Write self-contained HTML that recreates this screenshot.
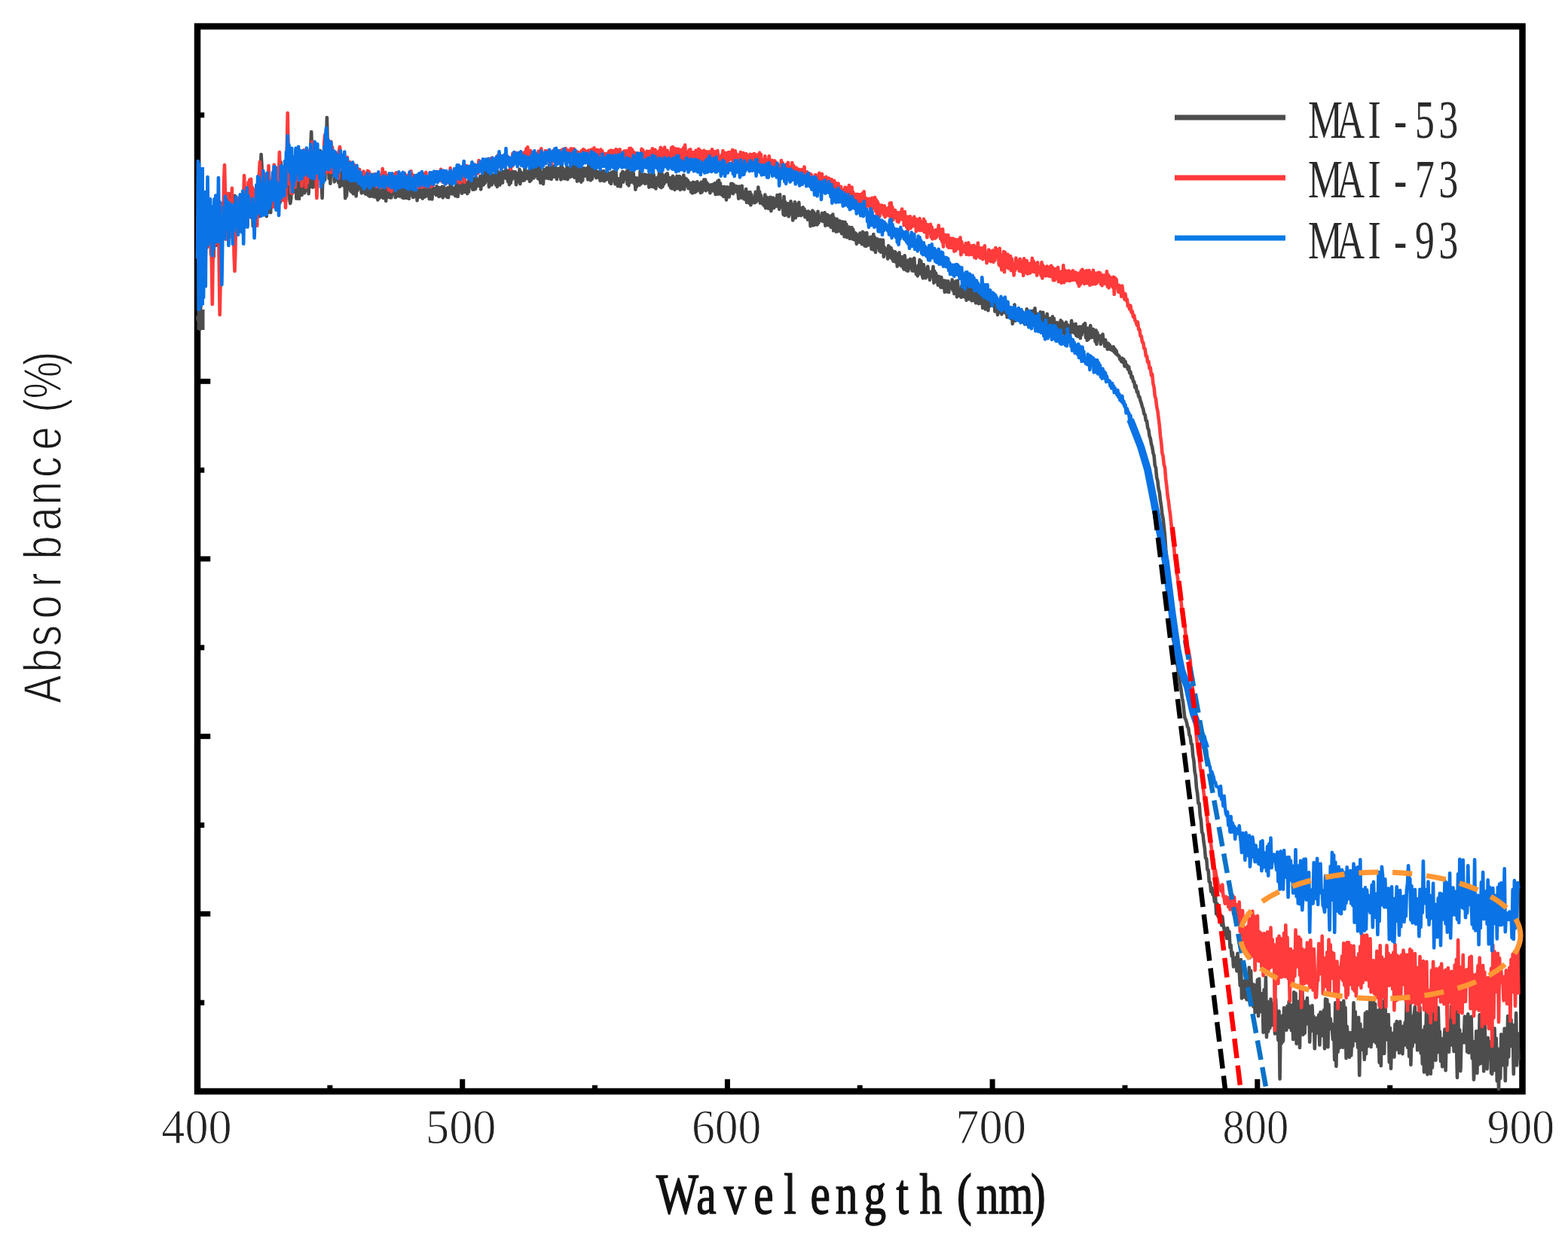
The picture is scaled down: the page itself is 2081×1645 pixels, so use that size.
<!DOCTYPE html>
<html><head><meta charset="utf-8"><title>Absorbance vs Wavelength</title>
<style>html,body{margin:0;padding:0;background:#fff;}svg{display:block;}</style></head>
<body><svg width="2081" height="1645" viewBox="0 0 2081 1645">
<rect width="2081" height="1645" fill="#fff"/>
<rect x="262.0" y="35.0" width="1758.5" height="1414.0" fill="none" stroke="#000" stroke-width="8.5"/>
<line x1="437.9" y1="1449.0" x2="437.9" y2="1440.75" stroke="#000" stroke-width="7"/>
<line x1="613.7" y1="1449.0" x2="613.7" y2="1432.75" stroke="#000" stroke-width="7"/>
<line x1="789.5" y1="1449.0" x2="789.5" y2="1440.75" stroke="#000" stroke-width="7"/>
<line x1="965.4" y1="1449.0" x2="965.4" y2="1432.75" stroke="#000" stroke-width="7"/>
<line x1="1141.2" y1="1449.0" x2="1141.2" y2="1440.75" stroke="#000" stroke-width="7"/>
<line x1="1317.1" y1="1449.0" x2="1317.1" y2="1432.75" stroke="#000" stroke-width="7"/>
<line x1="1493.0" y1="1449.0" x2="1493.0" y2="1440.75" stroke="#000" stroke-width="7"/>
<line x1="1668.8" y1="1449.0" x2="1668.8" y2="1432.75" stroke="#000" stroke-width="7"/>
<line x1="1844.7" y1="1449.0" x2="1844.7" y2="1440.75" stroke="#000" stroke-width="7"/>
<line x1="262.0" y1="1331.2" x2="271.25" y2="1331.2" stroke="#000" stroke-width="7"/>
<line x1="262.0" y1="1213.3" x2="279.25" y2="1213.3" stroke="#000" stroke-width="7"/>
<line x1="262.0" y1="1095.5" x2="271.25" y2="1095.5" stroke="#000" stroke-width="7"/>
<line x1="262.0" y1="977.7" x2="279.25" y2="977.7" stroke="#000" stroke-width="7"/>
<line x1="262.0" y1="859.8" x2="271.25" y2="859.8" stroke="#000" stroke-width="7"/>
<line x1="262.0" y1="742.0" x2="279.25" y2="742.0" stroke="#000" stroke-width="7"/>
<line x1="262.0" y1="624.2" x2="271.25" y2="624.2" stroke="#000" stroke-width="7"/>
<line x1="262.0" y1="506.3" x2="279.25" y2="506.3" stroke="#000" stroke-width="7"/>
<line x1="262.0" y1="388.5" x2="271.25" y2="388.5" stroke="#000" stroke-width="7"/>
<line x1="262.0" y1="270.7" x2="279.25" y2="270.7" stroke="#000" stroke-width="7"/>
<line x1="262.0" y1="152.8" x2="271.25" y2="152.8" stroke="#000" stroke-width="7"/>
<path d="M262.0 419.3 262.9 425.0 263.8 423.6 264.7 406.5 265.6 437.0 266.5 393.6 267.4 375.4 268.3 340.0 269.2 360.4 270.1 313.2 271.0 347.0 271.9 308.8 272.8 339.6 273.7 310.5 274.6 328.5 275.5 288.4 276.4 320.4 277.3 274.4 278.2 324.5 279.1 289.2 280.0 337.8 280.9 306.5 281.8 330.0 282.7 287.7 283.6 341.3 284.5 298.7 285.4 321.3 286.3 286.9 287.2 325.8 288.1 311.4 289.0 321.9 289.9 300.2 290.8 318.0 291.7 282.9 292.6 325.0 293.5 291.3 294.4 320.2 295.3 290.1 296.2 314.4 297.1 289.5 298.0 304.9 298.9 292.5 299.8 308.2 300.7 268.8 301.6 315.3 302.5 286.1 303.4 296.9 304.3 285.6 305.2 303.5 306.1 257.0 307.0 303.6 307.9 278.2 308.8 292.6 309.7 285.0 310.6 309.1 311.5 259.8 312.4 298.8 313.3 285.6 314.2 297.9 315.1 285.6 316.0 300.5 316.9 267.3 317.8 307.3 318.7 279.6 319.6 295.4 320.5 276.8 321.4 295.3 322.3 269.7 323.2 292.3 324.1 269.7 325.0 301.4 325.9 266.0 326.8 289.3 327.7 275.3 328.6 285.9 329.5 261.0 330.4 287.1 331.3 263.2 332.2 287.8 333.1 263.7 334.0 289.0 334.9 258.2 335.8 300.2 336.7 265.6 337.6 282.8 338.5 257.9 339.4 291.6 340.3 265.7 341.2 278.6 342.1 266.0 343.0 282.6 343.9 244.1 344.8 287.1 345.7 228.8 346.6 205.0 347.5 220.7 348.4 280.1 349.3 237.6 350.2 281.6 351.1 237.1 352.0 280.4 352.9 248.4 353.8 287.1 354.7 239.2 355.6 282.1 356.5 262.7 357.4 275.3 358.3 256.3 359.2 282.1 360.1 248.1 361.0 269.4 361.9 242.1 362.8 263.3 363.7 241.5 364.6 265.3 365.5 238.6 366.4 272.9 367.3 263.6 368.2 273.7 369.1 249.4 370.0 267.3 370.9 242.8 371.8 268.8 372.7 215.2 373.6 259.9 374.5 238.6 375.4 253.7 376.3 231.9 377.2 248.8 378.1 234.3 379.0 267.9 379.9 248.1 380.8 257.4 381.7 221.2 382.6 250.7 383.5 223.2 384.4 265.0 385.3 270.0 386.2 263.3 387.1 224.2 388.0 248.2 388.9 226.7 389.8 249.3 390.7 226.0 391.6 254.9 392.5 225.6 393.4 263.8 394.3 223.3 395.2 251.7 396.1 232.5 397.0 263.9 397.9 227.8 398.8 256.4 399.7 228.3 400.6 258.9 401.5 222.9 402.4 251.7 403.3 224.1 404.2 256.2 405.1 227.5 406.0 251.8 406.9 217.7 407.8 253.0 408.7 217.0 409.6 257.2 410.5 235.3 411.4 248.1 412.3 196.0 413.2 175.0 414.1 202.1 415.0 248.8 415.9 230.1 416.8 240.4 417.7 214.1 418.6 247.8 419.5 216.1 420.4 239.5 421.3 219.3 422.2 234.4 423.1 201.3 424.0 236.8 424.9 200.0 425.8 231.7 426.7 240.1 427.6 263.0 428.5 229.6 429.4 232.2 430.3 209.4 431.2 238.7 432.1 206.8 433.0 194.3 433.9 156.0 434.8 193.8 435.7 208.3 436.6 236.9 437.5 198.9 438.4 243.8 439.3 207.5 440.2 232.0 441.1 210.1 442.0 231.6 442.9 222.2 443.8 241.4 444.7 223.1 445.6 238.8 446.5 213.9 447.4 239.2 448.3 216.5 449.2 242.5 450.1 228.8 451.0 248.0 451.9 228.5 452.8 242.8 453.7 234.2 454.6 246.2 455.5 233.4 456.4 243.7 457.3 235.1 458.2 263.2 459.1 239.8 460.0 260.4 460.9 238.7 461.8 251.1 462.7 241.4 463.6 250.7 464.5 238.9 465.4 253.8 466.3 241.4 467.2 255.4 468.1 236.8 469.0 257.3 469.9 241.1 470.8 254.5 471.7 239.3 472.6 260.5 473.5 246.5 474.4 253.0 475.3 247.7 476.2 249.8 477.1 243.8 478.0 247.3 478.9 245.8 479.8 256.4 480.7 243.9 481.6 253.0 482.5 244.4 483.4 255.8 484.3 244.2 485.2 257.8 486.1 239.6 487.0 257.1 487.9 242.6 488.8 259.4 489.7 248.2 490.6 260.8 491.5 246.5 492.4 260.5 493.3 245.8 494.2 255.1 495.1 247.8 496.0 261.3 496.9 245.4 497.8 258.6 498.7 251.4 499.6 262.3 500.5 243.3 501.4 265.5 502.3 247.0 503.2 263.3 504.1 253.9 505.0 261.7 505.9 258.1 506.8 260.5 507.7 250.1 508.6 263.0 509.5 253.1 510.4 261.1 511.3 244.1 512.2 266.8 513.1 248.8 514.0 260.2 514.9 250.8 515.8 261.7 516.7 252.2 517.6 262.4 518.5 249.4 519.4 262.4 520.3 250.1 521.2 257.7 522.1 247.9 523.0 257.4 523.9 251.1 524.8 262.3 525.7 246.7 526.6 260.6 527.5 245.8 528.4 259.6 529.3 245.6 530.2 260.7 531.1 248.0 532.0 257.6 532.9 242.4 533.8 262.1 534.7 258.6 535.6 263.0 536.5 246.7 537.4 260.5 538.3 253.5 539.2 263.0 540.1 253.1 541.0 258.8 541.9 246.6 542.8 263.8 543.7 242.0 544.6 259.1 545.5 245.0 546.4 247.1 547.3 250.8 548.2 262.0 549.1 250.5 550.0 256.5 550.9 252.1 551.8 261.4 552.7 250.9 553.6 266.2 554.5 249.6 555.4 261.9 556.3 254.1 557.2 260.3 558.1 251.2 559.0 261.7 559.9 252.5 560.8 263.6 561.7 254.1 562.6 261.8 563.5 249.0 564.4 261.1 565.3 245.4 566.2 259.6 567.1 253.7 568.0 260.1 568.9 251.1 569.8 264.2 570.7 246.1 571.6 263.6 572.5 243.4 573.4 264.5 574.3 249.3 575.2 257.3 576.1 250.3 577.0 254.7 577.9 251.7 578.8 258.9 579.7 247.2 580.6 256.7 581.5 250.6 582.4 261.0 583.3 249.0 584.2 258.7 585.1 249.7 586.0 260.5 586.9 247.7 587.8 262.4 588.7 247.9 589.6 259.6 590.5 257.4 591.4 259.6 592.3 250.4 593.2 261.7 594.1 249.3 595.0 262.3 595.9 249.8 596.8 256.5 597.7 245.9 598.6 257.1 599.5 248.0 600.4 257.5 601.3 250.0 602.2 256.4 603.1 250.1 604.0 259.9 604.9 247.4 605.8 260.5 606.7 241.3 607.6 261.0 608.5 253.0 609.4 251.2 610.3 246.5 611.2 253.5 612.1 244.3 613.0 256.8 613.9 249.2 614.8 255.2 615.7 240.2 616.6 255.0 617.5 243.6 618.4 253.4 619.3 245.1 620.2 257.1 621.1 241.3 622.0 254.8 622.9 239.9 623.8 247.8 624.7 247.8 625.6 247.4 626.5 243.0 627.4 251.7 628.3 236.8 629.2 251.7 630.1 238.8 631.0 250.9 631.9 235.3 632.8 247.5 633.7 238.1 634.6 246.3 635.5 240.5 636.4 246.8 637.3 234.0 638.2 251.4 639.1 239.4 640.0 246.0 640.9 232.0 641.8 245.3 642.7 227.9 643.6 243.1 644.5 230.0 645.4 234.7 646.3 227.1 647.2 240.2 648.1 232.0 649.0 248.1 649.9 235.3 650.8 245.2 651.7 230.3 652.6 245.5 653.5 232.2 654.4 242.3 655.3 233.5 656.2 240.7 657.1 231.0 658.0 245.3 658.9 228.3 659.8 248.0 660.7 227.9 661.6 245.1 662.5 231.4 663.4 245.6 664.3 229.3 665.2 242.5 666.1 231.1 667.0 242.6 667.9 227.8 668.8 233.9 669.7 229.3 670.6 236.3 671.5 225.3 672.4 237.4 673.3 227.0 674.2 241.3 675.1 230.8 676.0 245.1 676.9 223.9 677.8 242.9 678.7 226.6 679.6 238.3 680.5 229.9 681.4 236.0 682.3 228.0 683.2 234.9 684.1 228.3 685.0 245.2 685.9 234.3 686.8 240.8 687.7 230.2 688.6 241.5 689.5 224.9 690.4 244.2 691.3 228.3 692.2 238.8 693.1 229.9 694.0 239.6 694.9 229.9 695.8 239.4 696.7 219.8 697.6 237.2 698.5 229.9 699.4 236.9 700.3 227.6 701.2 236.5 702.1 229.1 703.0 240.9 703.9 214.7 704.8 239.5 705.7 219.9 706.6 232.0 707.5 223.0 708.4 236.5 709.3 220.5 710.2 233.9 711.1 221.2 712.0 231.6 712.9 220.6 713.8 236.9 714.7 226.4 715.6 238.0 716.5 221.0 717.4 242.8 718.3 229.0 719.2 238.8 720.1 228.9 721.0 244.2 721.9 225.0 722.8 235.3 723.7 228.7 724.6 236.5 725.5 222.9 726.4 231.9 727.3 225.3 728.2 237.1 729.1 218.9 730.0 232.9 730.9 218.0 731.8 238.0 732.7 220.9 733.6 230.1 734.5 220.5 735.4 234.9 736.3 221.0 737.2 230.1 738.1 223.1 739.0 238.0 739.9 225.1 740.8 234.1 741.7 223.9 742.6 231.8 743.5 222.8 744.4 238.4 745.3 219.7 746.2 237.1 747.1 223.2 748.0 234.2 748.9 226.3 749.8 237.4 750.7 225.5 751.6 233.2 752.5 221.5 753.4 238.1 754.3 223.3 755.2 234.0 756.1 224.8 757.0 235.0 757.9 223.7 758.8 231.8 759.7 219.0 760.6 234.0 761.5 224.0 762.4 235.8 763.3 220.1 764.2 234.5 765.1 230.6 766.0 240.7 766.9 222.4 767.8 235.0 768.7 221.9 769.6 239.6 770.5 221.0 771.4 241.7 772.3 227.0 773.2 239.5 774.1 223.2 775.0 234.0 775.9 223.5 776.8 231.8 777.7 225.3 778.6 233.9 779.5 223.0 780.4 238.5 781.3 218.2 782.2 237.8 783.1 221.0 784.0 239.5 784.9 221.7 785.8 237.8 786.7 225.4 787.6 233.6 788.5 224.2 789.4 232.5 790.3 222.2 791.2 236.1 792.1 229.6 793.0 235.5 793.9 228.4 794.8 235.0 795.7 232.7 796.6 240.0 797.5 227.2 798.4 239.1 799.3 234.8 800.2 239.5 801.1 227.1 802.0 240.4 802.9 229.7 803.8 239.0 804.7 231.3 805.6 237.0 806.5 233.3 807.4 238.1 808.3 229.8 809.2 242.4 810.1 230.4 811.0 244.0 811.9 228.9 812.8 240.2 813.7 228.0 814.6 240.3 815.5 229.7 816.4 244.4 817.3 224.0 818.2 244.4 819.1 236.5 820.0 247.2 820.9 239.0 821.8 242.8 822.7 237.0 823.6 247.6 824.5 230.8 825.4 238.4 826.3 227.7 827.2 241.8 828.1 229.3 829.0 236.9 829.9 231.8 830.8 238.2 831.7 227.4 832.6 244.3 833.5 225.5 834.4 246.4 835.3 229.2 836.2 242.2 837.1 232.1 838.0 241.6 838.9 228.9 839.8 237.9 840.7 229.9 841.6 243.8 842.5 235.9 843.4 251.7 844.3 236.4 845.2 247.4 846.1 239.1 847.0 243.3 847.9 236.3 848.8 245.8 849.7 226.3 850.6 244.2 851.5 233.1 852.4 242.5 853.3 232.3 854.2 238.9 855.1 231.6 856.0 243.9 856.9 232.0 857.8 242.1 858.7 236.3 859.6 243.4 860.5 232.2 861.4 248.7 862.3 232.4 863.2 245.8 864.1 234.3 865.0 247.8 865.9 230.6 866.8 248.0 867.7 232.1 868.6 248.5 869.5 236.4 870.4 250.5 871.3 237.0 872.2 246.1 873.1 235.2 874.0 244.9 874.9 230.0 875.8 247.9 876.7 235.8 877.6 249.2 878.5 230.1 879.4 247.9 880.3 233.3 881.2 244.3 882.1 235.2 883.0 241.6 883.9 231.6 884.8 241.3 885.7 230.4 886.6 238.3 887.5 238.1 888.4 246.4 889.3 236.1 890.2 249.5 891.1 240.1 892.0 250.4 892.9 233.9 893.8 248.3 894.7 236.2 895.6 251.9 896.5 236.5 897.4 248.6 898.3 233.8 899.2 250.1 900.1 235.8 901.0 247.5 901.9 234.1 902.8 252.0 903.7 237.1 904.6 243.5 905.5 235.5 906.4 250.7 907.3 232.5 908.2 251.4 909.1 236.6 910.0 246.8 910.9 237.5 911.8 246.6 912.7 239.2 913.6 250.3 914.5 242.2 915.4 249.4 916.3 243.3 917.2 255.2 918.1 243.1 919.0 256.5 919.9 241.9 920.8 251.2 921.7 242.3 922.6 255.4 923.5 250.1 924.4 253.9 925.3 241.3 926.2 252.7 927.1 243.8 928.0 250.1 928.9 246.7 929.8 256.0 930.7 241.7 931.6 255.2 932.5 242.8 933.4 252.5 934.3 238.6 935.2 251.4 936.1 238.6 937.0 253.1 937.9 242.4 938.8 246.6 939.7 244.4 940.6 251.9 941.5 247.7 942.4 256.2 943.3 245.6 944.2 252.4 945.1 245.2 946.0 253.5 946.9 244.5 947.8 252.2 948.7 243.4 949.6 258.1 950.5 244.6 951.4 254.4 952.3 240.6 953.2 257.8 954.1 239.4 955.0 256.1 955.9 243.4 956.8 257.9 957.7 249.5 958.6 259.2 959.5 248.1 960.4 261.0 961.3 248.1 962.2 260.8 963.1 250.2 964.0 265.4 964.9 248.3 965.8 261.3 966.7 248.7 967.6 261.5 968.5 253.8 969.4 256.2 970.3 243.9 971.2 256.4 972.1 244.0 973.0 257.2 973.9 245.2 974.8 254.4 975.7 247.5 976.6 253.0 977.5 247.3 978.4 255.2 979.3 252.7 980.2 263.7 981.1 247.5 982.0 259.9 982.9 247.7 983.8 262.7 984.7 246.9 985.6 261.6 986.5 255.9 987.4 264.3 988.3 255.1 989.2 265.1 990.1 251.0 991.0 268.8 991.9 255.0 992.8 267.3 993.7 261.5 994.6 270.0 995.5 255.0 996.4 272.3 997.3 258.3 998.2 269.1 999.1 261.9 1000.0 269.0 1000.9 262.3 1001.8 269.2 1002.7 254.8 1003.6 268.0 1004.5 258.8 1005.4 266.3 1006.3 248.5 1007.2 263.4 1008.1 254.3 1009.0 269.6 1009.9 259.4 1010.8 267.5 1011.7 265.6 1012.6 271.4 1013.5 264.4 1014.4 273.6 1015.3 258.6 1016.2 276.3 1017.1 261.7 1018.0 275.5 1018.9 262.7 1019.8 276.9 1020.7 262.6 1021.6 275.2 1022.5 261.9 1023.4 280.1 1024.3 268.5 1025.2 271.4 1026.1 262.6 1027.0 276.2 1027.9 267.2 1028.8 274.3 1029.7 263.8 1030.6 272.0 1031.5 259.0 1032.4 274.0 1033.3 267.7 1034.2 277.9 1035.1 258.3 1036.0 274.8 1036.9 268.9 1037.8 272.7 1038.7 266.9 1039.6 284.6 1040.5 261.0 1041.4 285.9 1042.3 268.4 1043.2 285.5 1044.1 270.9 1045.0 279.9 1045.9 270.2 1046.8 287.4 1047.7 271.2 1048.6 284.2 1049.5 267.2 1050.4 284.0 1051.3 271.5 1052.2 292.5 1053.1 276.6 1054.0 284.3 1054.9 268.2 1055.8 289.3 1056.7 271.1 1057.6 280.1 1058.5 278.3 1059.4 286.1 1060.3 268.8 1061.2 283.9 1062.1 276.0 1063.0 286.3 1063.9 278.2 1064.8 285.0 1065.7 275.4 1066.6 284.2 1067.5 277.5 1068.4 288.3 1069.3 280.5 1070.2 288.0 1071.1 285.6 1072.0 291.6 1072.9 280.6 1073.8 291.7 1074.7 282.4 1075.6 300.2 1076.5 281.7 1077.4 294.8 1078.3 279.6 1079.2 299.3 1080.1 281.6 1081.0 298.6 1081.9 284.4 1082.8 292.4 1083.7 285.5 1084.6 298.5 1085.5 280.7 1086.4 295.9 1087.3 292.0 1088.2 293.0 1089.1 287.6 1090.0 291.2 1090.9 283.0 1091.8 293.9 1092.7 285.0 1093.6 294.2 1094.5 282.4 1095.4 299.6 1096.3 284.7 1097.2 293.2 1098.1 285.0 1099.0 299.0 1099.9 286.6 1100.8 297.2 1101.7 288.3 1102.6 301.7 1103.5 286.5 1104.4 301.5 1105.3 284.5 1106.2 306.3 1107.1 289.6 1108.0 300.2 1108.9 291.2 1109.8 307.6 1110.7 290.7 1111.6 307.2 1112.5 299.2 1113.4 305.2 1114.3 293.2 1115.2 307.0 1116.1 299.2 1117.0 310.1 1117.9 294.2 1118.8 307.6 1119.7 299.5 1120.6 314.3 1121.5 294.9 1122.4 312.5 1123.3 297.8 1124.2 315.2 1125.1 302.1 1126.0 313.8 1126.9 301.5 1127.8 316.8 1128.7 302.8 1129.6 315.0 1130.5 302.1 1131.4 317.1 1132.3 304.8 1133.2 318.1 1134.1 308.8 1135.0 318.6 1135.9 309.9 1136.8 323.9 1137.7 311.9 1138.6 318.9 1139.5 312.4 1140.4 321.4 1141.3 309.6 1142.2 322.0 1143.1 311.0 1144.0 324.3 1144.9 307.8 1145.8 322.1 1146.7 309.3 1147.6 326.4 1148.5 311.9 1149.4 326.9 1150.3 309.0 1151.2 325.8 1152.1 315.3 1153.0 325.2 1153.9 317.1 1154.8 321.0 1155.7 314.5 1156.6 330.7 1157.5 318.2 1158.4 331.1 1159.3 311.1 1160.2 332.0 1161.1 315.4 1162.0 335.0 1162.9 321.9 1163.8 325.4 1164.7 317.2 1165.6 329.3 1166.5 319.3 1167.4 333.3 1168.3 318.3 1169.2 334.8 1170.1 322.1 1171.0 334.6 1171.9 318.5 1172.8 341.0 1173.7 328.2 1174.6 333.5 1175.5 330.7 1176.4 336.8 1177.3 330.6 1178.2 343.6 1179.1 326.3 1180.0 337.2 1180.9 328.0 1181.8 341.5 1182.7 329.3 1183.6 343.5 1184.5 333.0 1185.4 346.7 1186.3 336.6 1187.2 342.4 1188.1 334.4 1189.0 348.2 1189.9 338.4 1190.8 353.7 1191.7 336.8 1192.6 351.6 1193.5 335.3 1194.4 351.1 1195.3 343.9 1196.2 353.3 1197.1 341.0 1198.0 350.7 1198.9 355.7 1199.8 357.6 1200.7 339.3 1201.6 353.6 1202.5 347.9 1203.4 359.4 1204.3 345.9 1205.2 359.8 1206.1 350.2 1207.0 356.1 1207.9 344.0 1208.8 354.2 1209.7 344.5 1210.6 359.4 1211.5 345.7 1212.4 359.8 1213.3 342.7 1214.2 358.5 1215.1 353.2 1216.0 364.2 1216.9 354.2 1217.8 366.4 1218.7 352.6 1219.6 363.7 1220.5 345.1 1221.4 362.3 1222.3 346.7 1223.2 363.4 1224.1 366.3 1225.0 369.4 1225.9 351.3 1226.8 365.5 1227.7 359.1 1228.6 369.2 1229.5 356.9 1230.4 366.9 1231.3 353.7 1232.2 366.8 1233.1 360.5 1234.0 371.7 1234.9 362.9 1235.8 367.5 1236.7 360.3 1237.6 366.5 1238.5 354.1 1239.4 375.7 1240.3 360.0 1241.2 372.7 1242.1 362.9 1243.0 374.1 1243.9 367.7 1244.8 378.6 1245.7 366.7 1246.6 374.6 1247.5 368.0 1248.4 381.5 1249.3 368.0 1250.2 381.6 1251.1 375.0 1252.0 380.2 1252.9 372.5 1253.8 387.8 1254.7 372.7 1255.6 387.2 1256.5 376.1 1257.4 384.2 1258.3 373.4 1259.2 388.0 1260.1 376.3 1261.0 382.5 1261.9 380.6 1262.8 382.7 1263.7 371.2 1264.6 385.6 1265.5 375.3 1266.4 390.0 1267.3 374.3 1268.2 384.2 1269.1 373.0 1270.0 394.2 1270.9 372.8 1271.8 386.5 1272.7 386.1 1273.6 392.7 1274.5 385.8 1275.4 394.6 1276.3 379.9 1277.2 394.1 1278.1 386.0 1279.0 392.5 1279.9 378.7 1280.8 394.5 1281.7 379.1 1282.6 398.6 1283.5 379.5 1284.4 396.6 1285.3 386.4 1286.2 397.1 1287.1 384.3 1288.0 397.3 1288.9 381.9 1289.8 399.3 1290.7 383.5 1291.6 396.9 1292.5 387.2 1293.4 399.4 1294.3 386.7 1295.2 402.3 1296.1 385.3 1297.0 399.3 1297.9 390.7 1298.8 403.2 1299.7 384.9 1300.6 402.7 1301.5 391.0 1302.4 401.2 1303.3 390.8 1304.2 409.0 1305.1 391.2 1306.0 408.2 1306.9 394.0 1307.8 410.5 1308.7 392.0 1309.6 404.2 1310.5 399.2 1311.4 412.3 1312.3 398.0 1313.2 406.6 1314.1 400.9 1315.0 404.2 1315.9 396.2 1316.8 405.9 1317.7 400.9 1318.6 406.1 1319.5 395.8 1320.4 413.5 1321.3 397.8 1322.2 411.7 1323.1 398.7 1324.0 418.0 1324.9 399.3 1325.8 410.7 1326.7 401.4 1327.6 414.8 1328.5 405.8 1329.4 417.3 1330.3 402.1 1331.2 413.3 1332.1 398.3 1333.0 414.8 1333.9 404.4 1334.8 415.8 1335.7 405.7 1336.6 421.2 1337.5 402.6 1338.4 416.0 1339.3 409.0 1340.2 416.6 1341.1 408.3 1342.0 423.3 1342.9 412.1 1343.8 429.9 1344.7 412.8 1345.6 417.1 1346.5 404.6 1347.4 426.0 1348.3 412.1 1349.2 424.5 1350.1 412.1 1351.0 423.4 1351.9 413.1 1352.8 418.9 1353.7 412.1 1354.6 425.5 1355.5 413.0 1356.4 427.3 1357.3 414.3 1358.2 428.1 1359.1 421.0 1360.0 429.8 1360.9 416.3 1361.8 426.0 1362.7 410.4 1363.6 431.0 1364.5 415.0 1365.4 430.4 1366.3 415.6 1367.2 427.4 1368.1 420.3 1369.0 424.3 1369.9 412.9 1370.8 428.9 1371.7 415.5 1372.6 426.7 1373.5 409.2 1374.4 427.0 1375.3 418.2 1376.2 431.5 1377.1 416.8 1378.0 428.3 1378.9 417.4 1379.8 430.4 1380.7 414.3 1381.6 434.4 1382.5 421.6 1383.4 432.4 1384.3 414.8 1385.2 436.3 1386.1 420.3 1387.0 438.0 1387.9 422.0 1388.8 436.6 1389.7 416.8 1390.6 435.2 1391.5 427.1 1392.4 433.9 1393.3 422.9 1394.2 432.2 1395.1 423.5 1396.0 436.9 1396.9 420.4 1397.8 436.6 1398.7 422.7 1399.6 439.4 1400.5 428.0 1401.4 437.1 1402.3 428.3 1403.2 441.1 1404.1 428.5 1405.0 437.2 1405.9 430.1 1406.8 438.1 1407.7 425.3 1408.6 435.0 1409.5 427.1 1410.4 437.9 1411.3 431.5 1412.2 443.0 1413.1 430.0 1414.0 442.1 1414.9 427.8 1415.8 442.6 1416.7 431.2 1417.6 446.4 1418.5 432.5 1419.4 444.7 1420.3 432.4 1421.2 440.0 1422.1 425.9 1423.0 441.1 1423.9 430.6 1424.8 440.2 1425.7 433.2 1426.6 442.8 1427.5 430.0 1428.4 445.5 1429.3 437.3 1430.2 446.7 1431.1 434.4 1432.0 446.1 1432.9 433.7 1433.8 449.0 1434.7 437.8 1435.6 444.5 1436.5 433.2 1437.4 441.0 1438.3 430.7 1439.2 440.3 1440.1 429.3 1441.0 448.1 1441.9 436.6 1442.8 451.8 1443.7 435.8 1444.6 450.5 1445.5 439.8 1446.4 437.1 1447.3 432.2 1448.2 448.2 1449.1 437.5 1450.0 447.7 1450.9 437.1 1451.8 445.1 1452.7 441.0 1453.6 453.7 1454.5 438.6 1455.4 457.0 1456.3 441.2 1457.2 448.4 1458.1 445.5 1459.0 450.7 1459.9 446.0 1460.8 457.0 1461.7 446.8 1462.6 453.8 1463.5 443.7 1464.4 453.6 1465.3 451.5 1466.2 459.7 1467.1 451.2 1468.0 457.2 1468.9 455.5 1469.8 463.8 1470.7 455.8 1471.6 462.6 1472.5 457.6 1473.4 463.8 1474.3 460.3 1475.2 464.4 1476.1 461.3 1477.0 465.4 1477.9 460.4 1478.8 467.4 1479.7 463.2 1480.6 469.3 1481.5 465.4 1482.4 470.9 1483.4 470.7 1484.3 472.6 1485.3 472.5 1486.3 477.0 1487.3 477.3 1488.3 479.9 1489.3 475.5 1490.3 481.2 1491.4 477.0 1492.5 486.2 1493.5 479.9 1494.6 486.7 1495.8 485.0 1496.9 490.2 1498.1 486.8 1499.2 495.1 1500.4 493.7 1501.6 501.3 1502.8 500.0 1504.0 506.5 1505.2 506.8 1506.4 514.5 1507.6 512.1 1508.8 520.5 1510.0 520.0 1511.2 526.7 1512.4 527.0 1513.6 532.2 1514.8 535.3 1516.0 540.1 1517.2 542.9 1518.4 549.5 1519.6 550.3 1520.8 558.4 1522.0 558.7 1523.2 568.1 1524.4 570.5 1525.6 579.2 1526.8 582.2 1528.0 589.8 1529.2 593.3 1530.4 601.1 1531.6 605.2 1532.8 618.2 1534.0 621.1 1535.2 634.1 1536.4 638.4 1537.6 649.0 1538.8 653.4 1540.0 664.4 1541.2 671.8 1542.4 682.8 1543.6 688.3 1544.8 699.5 1546.0 710.4 1547.2 728.7 1548.4 741.6 1549.6 761.6 1550.8 774.5 1552.0 793.2 1553.2 808.3 1554.4 827.8 1555.6 838.1 1556.8 848.2 1558.0 852.6 1559.2 862.0 1560.4 866.7 1561.6 881.0 1562.8 884.1 1564.0 894.2 1565.2 900.6 1566.4 909.1 1567.6 916.1 1568.8 926.0 1570.0 931.8 1571.2 942.8 1572.4 952.9 1573.6 955.1 1574.8 958.9 1576.0 964.8 1577.2 966.8 1578.4 975.5 1579.6 977.6 1580.8 987.3 1582.0 988.1 1583.2 1003.1 1584.4 1009.9 1585.6 1024.2 1586.8 1030.1 1588.0 1046.5 1589.2 1053.5 1590.4 1066.5 1591.6 1066.9 1592.8 1082.5 1594.0 1089.7 1595.2 1104.8 1596.4 1107.0 1597.6 1118.2 1598.8 1125.8 1600.0 1139.4 1601.2 1139.9 1602.4 1154.6 1603.6 1155.1 1604.8 1170.9 1606.0 1171.2 1607.2 1183.7 1608.4 1178.9 1609.5 1187.8 1610.7 1185.5 1611.9 1197.2 1613.0 1188.2 1614.2 1213.3 1615.4 1200.0 1616.5 1216.5 1617.7 1204.2 1618.9 1221.7 1620.0 1214.7 1621.2 1228.4 1622.3 1217.0 1623.5 1228.3 1624.6 1233.3 1625.7 1241.3 1626.9 1233.0 1628.0 1245.9 1629.1 1232.2 1630.3 1245.8 1631.4 1236.9 1632.5 1258.0 1633.6 1254.6 1634.7 1269.4 1635.9 1264.8 1637.0 1283.4 1638.1 1272.3 1639.2 1273.0 1640.3 1271.3 1641.4 1289.2 1642.5 1265.7 1643.6 1280.8 1644.7 1289.2 1645.8 1308.4 1646.9 1274.0 1648.0 1325.5 1649.1 1305.8 1650.2 1323.2 1651.3 1302.2 1652.4 1324.1 1653.5 1312.0 1654.6 1327.3 1655.7 1294.3 1656.8 1327.4 1657.9 1284.5 1659.0 1333.2 1660.1 1288.8 1661.2 1323.5 1662.3 1306.5 1663.4 1336.4 1664.5 1307.5 1665.6 1344.1 1666.7 1313.5 1667.8 1341.3 1668.9 1300.7 1670.0 1349.0 1671.1 1299.6 1672.2 1343.4 1673.3 1326.6 1674.4 1340.2 1675.5 1319.0 1676.6 1370.8 1677.7 1314.0 1678.8 1351.9 1679.9 1297.6 1681.0 1376.9 1682.1 1329.8 1683.2 1369.5 1684.3 1338.0 1685.4 1365.0 1686.5 1326.5 1687.6 1361.3 1688.7 1332.5 1689.8 1359.9 1690.9 1334.4 1692.0 1372.5 1693.1 1326.3 1694.2 1360.9 1695.3 1355.7 1696.4 1381.0 1697.5 1342.6 1698.6 1432.5 1699.7 1353.8 1700.8 1385.1 1701.9 1348.5 1703.0 1382.4 1704.1 1338.0 1705.2 1359.5 1706.3 1340.2 1707.4 1367.6 1708.5 1335.8 1709.6 1358.6 1710.7 1329.9 1711.8 1364.1 1712.9 1341.5 1714.0 1368.2 1715.1 1334.3 1716.2 1380.0 1717.3 1317.2 1718.4 1352.5 1719.5 1318.8 1720.6 1385.8 1721.7 1339.6 1722.8 1380.0 1723.9 1329.5 1725.0 1390.9 1726.1 1315.3 1727.2 1355.8 1728.3 1309.8 1729.4 1373.7 1730.5 1343.8 1731.6 1371.6 1732.7 1329.5 1733.8 1346.4 1734.9 1325.1 1736.0 1359.8 1737.1 1335.8 1738.2 1383.5 1739.3 1347.8 1740.4 1368.9 1741.5 1335.0 1742.6 1363.5 1743.7 1349.7 1744.8 1392.2 1745.9 1359.0 1747.0 1372.0 1748.1 1351.3 1749.2 1371.2 1750.3 1347.4 1751.4 1387.5 1752.5 1343.7 1753.6 1372.3 1754.7 1347.3 1755.8 1375.3 1756.9 1341.3 1758.0 1392.1 1759.1 1326.3 1760.2 1363.4 1761.3 1327.4 1762.4 1390.3 1763.5 1333.6 1764.6 1365.4 1765.7 1352.6 1766.8 1366.2 1767.9 1366.2 1769.0 1380.1 1770.1 1359.7 1771.2 1407.3 1772.3 1331.2 1773.4 1415.8 1774.5 1351.1 1775.6 1396.6 1776.7 1337.9 1777.8 1391.3 1778.9 1331.3 1780.0 1378.1 1781.1 1351.5 1782.2 1390.6 1783.3 1328.8 1784.4 1383.1 1785.5 1337.8 1786.6 1404.9 1787.7 1362.9 1788.8 1375.6 1789.9 1385.0 1791.0 1403.7 1792.1 1371.0 1793.2 1401.3 1794.3 1373.4 1795.4 1388.9 1796.5 1331.3 1797.6 1377.3 1798.7 1343.2 1799.8 1381.9 1800.9 1353.5 1802.0 1390.6 1803.1 1350.8 1804.2 1427.6 1805.3 1359.6 1806.4 1393.8 1807.5 1367.1 1808.6 1392.4 1809.7 1377.2 1810.8 1406.7 1811.9 1345.4 1813.0 1399.1 1814.1 1343.4 1815.2 1389.2 1816.3 1346.5 1817.4 1382.2 1818.5 1325.5 1819.6 1389.9 1820.7 1334.6 1821.8 1382.9 1822.9 1330.1 1824.0 1378.3 1825.1 1332.7 1826.2 1384.6 1827.3 1347.2 1828.4 1389.6 1829.5 1341.3 1830.6 1410.6 1831.7 1334.1 1832.8 1415.0 1833.9 1342.1 1835.0 1398.7 1836.1 1329.5 1837.2 1398.6 1838.3 1318.7 1839.4 1380.5 1840.5 1353.2 1841.6 1380.0 1842.7 1347.0 1843.8 1410.3 1844.9 1364.9 1846.0 1418.6 1847.1 1379.0 1848.2 1371.7 1849.3 1380.9 1850.4 1403.4 1851.5 1359.8 1852.6 1393.8 1853.7 1356.0 1854.8 1377.9 1855.9 1363.9 1857.0 1397.9 1858.1 1356.3 1859.2 1395.4 1860.3 1367.3 1861.4 1399.1 1862.5 1362.5 1863.6 1387.9 1864.7 1357.6 1865.8 1378.8 1866.9 1314.3 1868.0 1390.6 1869.1 1354.0 1870.2 1402.6 1871.3 1331.8 1872.4 1413.8 1873.5 1369.5 1874.6 1389.5 1875.7 1349.7 1876.8 1346.9 1877.9 1336.6 1879.0 1383.7 1880.1 1360.8 1881.2 1394.3 1882.3 1344.5 1883.4 1384.3 1884.5 1337.6 1885.6 1398.1 1886.7 1368.8 1887.8 1412.4 1888.9 1367.9 1890.0 1423.5 1891.1 1362.8 1892.2 1387.3 1893.3 1325.3 1894.4 1426.5 1895.5 1367.4 1896.6 1409.8 1897.7 1349.1 1898.8 1425.7 1899.9 1335.5 1901.0 1417.4 1902.1 1358.7 1903.2 1399.6 1904.3 1333.1 1905.4 1407.6 1906.5 1354.2 1907.6 1397.1 1908.7 1337.8 1909.8 1375.3 1910.9 1369.5 1912.0 1409.0 1913.1 1379.0 1914.2 1416.1 1915.3 1381.4 1916.4 1388.9 1917.5 1366.6 1918.6 1421.1 1919.7 1373.9 1920.8 1390.5 1921.9 1371.1 1923.0 1396.7 1924.1 1354.5 1925.2 1366.9 1926.3 1335.5 1927.4 1387.7 1928.5 1358.4 1929.6 1396.0 1930.7 1342.6 1931.8 1382.8 1932.9 1383.5 1934.0 1430.8 1935.1 1330.2 1936.2 1415.7 1937.3 1367.2 1938.4 1421.9 1939.5 1380.3 1940.6 1377.6 1941.7 1372.9 1942.8 1384.1 1943.9 1349.6 1945.0 1384.3 1946.1 1354.6 1947.2 1396.5 1948.3 1346.2 1949.4 1397.7 1950.5 1359.9 1951.6 1379.2 1952.7 1349.9 1953.8 1405.3 1954.9 1382.8 1956.0 1433.4 1957.1 1405.7 1958.2 1415.1 1959.3 1369.0 1960.4 1424.7 1961.5 1371.0 1962.6 1413.3 1963.7 1347.4 1964.8 1411.9 1965.9 1366.1 1967.0 1381.9 1968.1 1342.8 1969.2 1422.1 1970.3 1340.9 1971.4 1405.3 1972.5 1378.9 1973.6 1419.2 1974.7 1377.7 1975.8 1404.3 1976.9 1383.0 1978.0 1385.7 1979.1 1424.8 1980.2 1425.8 1981.3 1370.0 1982.4 1421.2 1983.5 1365.2 1984.6 1409.7 1985.7 1378.6 1986.8 1435.2 1987.9 1392.5 1989.0 1446.0 1990.1 1405.8 1991.2 1431.6 1992.3 1373.3 1993.4 1413.6 1994.5 1378.7 1995.6 1414.4 1996.7 1365.5 1997.8 1435.0 1998.9 1371.2 2000.0 1413.9 2001.1 1349.1 2002.2 1403.2 2003.3 1351.2 2004.4 1387.4 2005.5 1353.7 2006.6 1389.1 2007.7 1360.7 2008.8 1426.0 2009.9 1364.7 2011.0 1403.8 2012.1 1345.0 2013.2 1414.4 2014.3 1372.4 2015.4 1407.0" fill="none" stroke="#4d4d4d" stroke-width="4.6" stroke-linejoin="round" stroke-linecap="butt"/>
<path d="M266.5 411 L266.5 438" fill="none" stroke="#4d4d4d" stroke-width="10"/>
<path d="M262.0 343.6 262.9 286.0 263.8 314.5 264.7 280.3 265.6 324.6 266.5 249.6 267.4 321.6 268.3 259.4 269.2 281.6 270.1 275.1 271.0 323.8 271.9 293.9 272.8 324.6 273.7 279.7 274.6 326.4 275.5 277.1 276.4 321.3 277.3 303.1 278.2 326.9 279.1 273.4 280.0 319.3 280.9 348.6 281.8 404.0 282.7 338.3 283.6 313.4 284.5 275.8 285.4 324.4 286.3 279.4 287.2 313.7 288.1 279.0 289.0 315.4 289.9 271.9 290.8 355.9 291.7 418.0 292.6 370.9 293.5 270.5 294.4 307.3 295.3 281.7 296.2 308.3 297.1 242.4 298.0 219.0 298.9 254.4 299.8 317.6 300.7 270.2 301.6 304.5 302.5 256.8 303.4 307.4 304.3 265.5 305.2 293.6 306.1 268.4 307.0 314.5 307.9 249.7 308.8 316.0 309.7 277.7 310.6 338.3 311.5 360.0 312.4 332.0 313.3 266.3 314.2 309.0 315.1 263.3 316.0 305.7 316.9 263.1 317.8 290.5 318.7 268.8 319.6 289.1 320.5 263.3 321.4 306.6 322.3 258.8 323.2 263.1 324.1 233.0 325.0 262.1 325.9 255.8 326.8 278.7 327.7 251.7 328.6 299.3 329.5 242.1 330.4 287.6 331.3 238.6 332.2 277.1 333.1 237.7 334.0 271.2 334.9 248.8 335.8 288.4 336.7 251.8 337.6 291.4 338.5 255.5 339.4 294.8 340.3 252.2 341.2 299.8 342.1 243.3 343.0 276.2 343.9 232.1 344.8 215.0 345.7 231.7 346.6 282.6 347.5 251.7 348.4 282.5 349.3 246.6 350.2 281.6 351.1 231.0 352.0 261.2 352.9 245.4 353.8 270.2 354.7 234.5 355.6 272.6 356.5 220.1 357.4 272.3 358.3 240.8 359.2 257.3 360.1 240.8 361.0 257.8 361.9 235.2 362.8 274.6 363.7 218.7 364.6 262.1 365.5 230.1 366.4 266.3 367.3 223.5 368.2 257.4 369.1 232.8 370.0 233.3 370.9 202.0 371.8 229.0 372.7 226.4 373.6 261.4 374.5 233.2 375.4 266.0 376.3 225.1 377.2 254.0 378.1 234.6 379.0 275.8 379.9 226.2 380.8 198.1 381.7 150.0 382.6 198.2 383.5 208.9 384.4 244.8 385.3 224.8 386.2 256.3 387.1 231.7 388.0 256.9 388.9 220.3 389.8 242.8 390.7 216.7 391.6 248.5 392.5 200.8 393.4 239.1 394.3 215.6 395.2 237.1 396.1 207.2 397.0 239.7 397.9 211.5 398.8 234.5 399.7 203.1 400.6 247.1 401.5 214.1 402.4 224.6 403.3 199.4 404.2 227.5 405.1 203.5 406.0 248.8 406.9 211.2 407.8 243.0 408.7 199.7 409.6 232.7 410.5 201.1 411.4 234.7 412.3 219.4 413.2 230.3 414.1 188.3 415.0 228.4 415.9 207.0 416.8 218.4 417.7 203.4 418.6 230.9 419.5 229.3 420.4 263.0 421.3 235.4 422.2 233.9 423.1 202.9 424.0 233.4 424.9 211.8 425.8 227.8 426.7 210.8 427.6 230.1 428.5 207.8 429.4 224.4 430.3 188.8 431.2 179.0 432.1 190.7 433.0 229.3 433.9 199.0 434.8 227.6 435.7 199.3 436.6 224.1 437.5 198.4 438.4 228.9 439.3 188.0 440.2 228.7 441.1 195.4 442.0 222.2 442.9 201.2 443.8 218.1 444.7 210.1 445.6 224.1 446.5 207.3 447.4 226.3 448.3 203.4 449.2 236.7 450.1 200.0 451.0 195.0 451.9 202.1 452.8 221.0 453.7 208.9 454.6 224.1 455.5 211.6 456.4 228.3 457.3 218.0 458.2 232.1 459.1 214.3 460.0 226.3 460.9 208.8 461.8 227.6 462.7 215.9 463.6 231.2 464.5 215.4 465.4 235.6 466.3 224.6 467.2 236.3 468.1 220.3 469.0 234.9 469.9 218.8 470.8 235.2 471.7 222.6 472.6 236.5 473.5 225.5 474.4 237.1 475.3 228.8 476.2 233.2 477.1 224.8 478.0 242.4 478.9 229.5 479.8 240.9 480.7 230.0 481.6 238.7 482.5 227.5 483.4 241.6 484.3 230.2 485.2 246.0 486.1 233.0 487.0 246.4 487.9 226.7 488.8 237.3 489.7 227.9 490.6 242.8 491.5 232.3 492.4 243.9 493.3 233.0 494.2 244.0 495.1 237.1 496.0 243.0 496.9 231.4 497.8 246.3 498.7 237.8 499.6 248.0 500.5 235.7 501.4 246.2 502.3 232.4 503.2 242.7 504.1 238.0 505.0 248.5 505.9 232.8 506.8 245.3 507.7 224.1 508.6 248.0 509.5 235.2 510.4 247.7 511.3 228.7 512.2 244.3 513.1 238.3 514.0 243.2 514.9 233.0 515.8 252.2 516.7 237.6 517.6 248.3 518.5 243.0 519.4 254.2 520.3 239.4 521.2 243.4 522.1 236.5 523.0 245.8 523.9 231.0 524.8 248.5 525.7 229.4 526.6 245.0 527.5 234.7 528.4 243.6 529.3 233.1 530.2 240.0 531.1 230.8 532.0 242.7 532.9 235.5 533.8 244.3 534.7 231.8 535.6 247.1 536.5 229.9 537.4 245.9 538.3 232.5 539.2 245.5 540.1 232.9 541.0 242.2 541.9 233.2 542.8 243.2 543.7 228.9 544.6 245.1 545.5 227.4 546.4 246.6 547.3 231.8 548.2 242.2 549.1 237.7 550.0 244.7 550.9 236.0 551.8 242.4 552.7 237.1 553.6 249.2 554.5 238.3 555.4 248.5 556.3 234.6 557.2 242.9 558.1 230.1 559.0 248.5 559.9 237.8 560.8 239.3 561.7 230.5 562.6 247.6 563.5 243.7 564.4 242.5 565.3 228.9 566.2 247.9 567.1 235.4 568.0 248.1 568.9 240.2 569.8 240.7 570.7 229.2 571.6 248.1 572.5 231.9 573.4 246.8 574.3 231.2 575.2 245.7 576.1 229.9 577.0 241.2 577.9 231.8 578.8 238.4 579.7 227.9 580.6 233.9 581.5 233.1 582.4 238.2 583.3 234.0 584.2 236.6 585.1 224.8 586.0 240.2 586.9 226.8 587.8 241.6 588.7 229.0 589.6 242.6 590.5 229.8 591.4 236.2 592.3 234.6 593.2 240.7 594.1 229.8 595.0 242.7 595.9 234.0 596.8 233.4 597.7 223.0 598.6 240.7 599.5 228.4 600.4 242.5 601.3 237.7 602.2 237.3 603.1 224.6 604.0 241.0 604.9 229.6 605.8 241.5 606.7 229.2 607.6 239.1 608.5 227.1 609.4 242.2 610.3 232.6 611.2 242.5 612.1 230.2 613.0 232.2 613.9 222.4 614.8 236.4 615.7 221.9 616.6 242.0 617.5 224.8 618.4 235.0 619.3 220.0 620.2 234.7 621.1 222.6 622.0 233.2 622.9 222.4 623.8 225.3 624.7 222.1 625.6 237.0 626.5 220.1 627.4 230.6 628.3 218.3 629.2 231.4 630.1 218.7 631.0 231.2 631.9 221.5 632.8 230.6 633.7 220.1 634.6 230.0 635.5 213.0 636.4 227.0 637.3 221.1 638.2 226.3 639.1 215.0 640.0 229.6 640.9 217.7 641.8 224.8 642.7 219.3 643.6 221.8 644.5 216.8 645.4 224.5 646.3 215.0 647.2 221.9 648.1 211.2 649.0 219.2 649.9 211.9 650.8 227.9 651.7 210.2 652.6 225.6 653.5 209.6 654.4 219.9 655.3 218.3 656.2 223.0 657.1 213.8 658.0 220.5 658.9 209.9 659.8 221.5 660.7 206.3 661.6 221.3 662.5 210.0 663.4 216.6 664.3 209.5 665.2 222.9 666.1 207.1 667.0 221.9 667.9 207.7 668.8 214.2 669.7 207.2 670.6 209.2 671.5 206.5 672.4 217.6 673.3 207.5 674.2 217.0 675.1 208.8 676.0 219.7 676.9 209.7 677.8 224.7 678.7 211.0 679.6 220.9 680.5 203.9 681.4 215.2 682.3 209.2 683.2 215.9 684.1 202.8 685.0 213.3 685.9 212.6 686.8 218.9 687.7 208.9 688.6 213.5 689.5 202.7 690.4 212.9 691.3 207.3 692.2 214.2 693.1 204.6 694.0 220.2 694.9 203.0 695.8 213.1 696.7 201.7 697.6 207.3 698.5 197.4 699.4 215.5 700.3 195.3 701.2 212.5 702.1 202.0 703.0 213.9 703.9 200.1 704.8 215.9 705.7 203.5 706.6 213.0 707.5 211.1 708.4 219.5 709.3 207.1 710.2 216.0 711.1 205.6 712.0 218.8 712.9 207.5 713.8 217.6 714.7 200.8 715.6 208.5 716.5 201.3 717.4 206.1 718.3 197.2 719.2 209.3 720.1 204.6 721.0 211.2 721.9 205.4 722.8 215.8 723.7 200.3 724.6 216.7 725.5 200.2 726.4 212.9 727.3 202.7 728.2 214.0 729.1 201.3 730.0 212.0 730.9 206.5 731.8 218.3 732.7 204.7 733.6 214.3 734.5 199.8 735.4 208.0 736.3 199.2 737.2 210.0 738.1 203.3 739.0 215.2 739.9 200.6 740.8 213.2 741.7 200.6 742.6 215.6 743.5 200.0 744.4 208.5 745.3 199.6 746.2 215.2 747.1 198.3 748.0 213.3 748.9 197.7 749.8 209.7 750.7 197.1 751.6 209.1 752.5 199.2 753.4 208.3 754.3 201.8 755.2 211.4 756.1 199.4 757.0 214.5 757.9 197.2 758.8 211.1 759.7 203.2 760.6 216.5 761.5 197.5 762.4 210.7 763.3 203.9 764.2 212.7 765.1 201.1 766.0 208.3 766.9 201.7 767.8 210.7 768.7 203.8 769.6 215.7 770.5 202.3 771.4 215.9 772.3 199.7 773.2 215.3 774.1 198.3 775.0 211.6 775.9 199.3 776.8 210.6 777.7 202.2 778.6 213.6 779.5 200.8 780.4 211.5 781.3 199.6 782.2 215.9 783.1 200.4 784.0 213.8 784.9 198.6 785.8 216.1 786.7 202.1 787.6 214.4 788.5 196.3 789.4 218.1 790.3 206.3 791.2 210.3 792.1 198.7 793.0 210.9 793.9 199.2 794.8 207.5 795.7 202.0 796.6 210.8 797.5 198.6 798.4 214.2 799.3 200.5 800.2 215.5 801.1 204.5 802.0 212.4 802.9 204.0 803.8 211.2 804.7 204.8 805.6 214.7 806.5 203.5 807.4 210.4 808.3 200.8 809.2 207.8 810.1 199.9 811.0 208.4 811.9 199.7 812.8 214.0 813.7 200.2 814.6 209.6 815.5 200.8 816.4 210.7 817.3 198.4 818.2 212.4 819.1 198.9 820.0 208.0 820.9 202.7 821.8 214.4 822.7 198.4 823.6 213.7 824.5 206.8 825.4 212.7 826.3 205.3 827.2 211.7 828.1 200.9 829.0 211.7 829.9 200.3 830.8 213.1 831.7 200.3 832.6 210.7 833.5 202.3 834.4 209.1 835.3 197.0 836.2 204.6 837.1 196.9 838.0 212.6 838.9 198.5 839.8 208.6 840.7 201.6 841.6 212.9 842.5 203.0 843.4 213.6 844.3 203.7 845.2 215.1 846.1 203.4 847.0 216.5 847.9 207.9 848.8 211.8 849.7 204.9 850.6 214.9 851.5 197.8 852.4 212.4 853.3 199.2 854.2 210.1 855.1 205.0 856.0 211.0 856.9 202.5 857.8 208.9 858.7 200.7 859.6 216.4 860.5 203.3 861.4 212.2 862.3 200.7 863.2 214.1 864.1 206.2 865.0 209.0 865.9 197.2 866.8 217.8 867.7 198.7 868.6 211.9 869.5 198.8 870.4 212.8 871.3 202.8 872.2 216.6 873.1 201.6 874.0 212.5 874.9 200.4 875.8 213.1 876.7 195.7 877.6 211.6 878.5 201.8 879.4 210.7 880.3 197.9 881.2 203.6 882.1 195.5 883.0 215.5 883.9 202.0 884.8 212.9 885.7 199.7 886.6 207.6 887.5 202.9 888.4 213.7 889.3 203.0 890.2 215.7 891.1 196.1 892.0 208.7 892.9 195.1 893.8 211.7 894.7 205.5 895.6 210.0 896.5 197.4 897.4 208.9 898.3 198.6 899.2 208.6 900.1 197.7 901.0 214.4 901.9 199.5 902.8 209.9 903.7 198.8 904.6 214.1 905.5 205.6 906.4 212.4 907.3 196.0 908.2 215.3 909.1 192.5 910.0 209.1 910.9 202.1 911.8 216.6 912.7 202.1 913.6 214.2 914.5 199.4 915.4 213.8 916.3 198.4 917.2 209.2 918.1 203.5 919.0 216.2 919.9 202.4 920.8 217.3 921.7 203.6 922.6 211.0 923.5 199.9 924.4 209.9 925.3 200.8 926.2 211.8 927.1 197.9 928.0 214.3 928.9 199.3 929.8 217.6 930.7 205.6 931.6 210.7 932.5 201.1 933.4 214.1 934.3 199.7 935.2 208.4 936.1 202.1 937.0 213.0 937.9 201.3 938.8 211.0 939.7 201.9 940.6 222.4 941.5 201.4 942.4 216.9 943.3 205.4 944.2 217.5 945.1 198.2 946.0 212.7 946.9 203.4 947.8 206.8 948.7 201.2 949.6 216.1 950.5 205.5 951.4 210.5 952.3 200.0 953.2 210.5 954.1 207.9 955.0 214.8 955.9 207.7 956.8 218.4 957.7 205.9 958.6 212.0 959.5 200.0 960.4 225.4 961.3 203.5 962.2 213.2 963.1 203.0 964.0 213.6 964.9 203.8 965.8 220.4 966.7 202.2 967.6 212.1 968.5 202.0 969.4 208.4 970.3 202.2 971.2 211.5 972.1 199.1 973.0 217.0 973.9 203.7 974.8 217.6 975.7 200.2 976.6 212.5 977.5 204.4 978.4 217.6 979.3 211.0 980.2 218.6 981.1 205.7 982.0 218.3 982.9 202.0 983.8 216.7 984.7 207.8 985.6 217.4 986.5 203.1 987.4 215.2 988.3 211.5 989.2 223.7 990.1 204.0 991.0 217.8 991.9 206.3 992.8 217.3 993.7 207.8 994.6 224.5 995.5 204.7 996.4 218.2 997.3 209.5 998.2 222.9 999.1 205.0 1000.0 218.1 1000.9 204.0 1001.8 215.4 1002.7 207.6 1003.6 223.1 1004.5 205.5 1005.4 219.9 1006.3 209.0 1007.2 217.6 1008.1 202.9 1009.0 224.3 1009.9 205.1 1010.8 219.0 1011.7 214.1 1012.6 213.2 1013.5 214.6 1014.4 224.0 1015.3 207.4 1016.2 224.3 1017.1 214.7 1018.0 223.1 1018.9 212.1 1019.8 221.0 1020.7 207.3 1021.6 221.3 1022.5 216.9 1023.4 228.0 1024.3 212.8 1025.2 221.4 1026.1 214.9 1027.0 223.1 1027.9 213.3 1028.8 227.9 1029.7 215.3 1030.6 230.2 1031.5 218.0 1032.4 221.7 1033.3 220.0 1034.2 228.9 1035.1 219.9 1036.0 225.9 1036.9 213.0 1037.8 228.9 1038.7 216.3 1039.6 223.5 1040.5 220.0 1041.4 222.3 1042.3 220.5 1043.2 228.1 1044.1 218.0 1045.0 229.8 1045.9 215.9 1046.8 226.8 1047.7 222.3 1048.6 237.4 1049.5 226.8 1050.4 234.8 1051.3 216.1 1052.2 234.5 1053.1 219.7 1054.0 228.2 1054.9 226.3 1055.8 234.9 1056.7 222.5 1057.6 239.1 1058.5 224.6 1059.4 241.4 1060.3 224.8 1061.2 235.2 1062.1 228.7 1063.0 243.8 1063.9 225.0 1064.8 240.2 1065.7 233.7 1066.6 237.3 1067.5 221.5 1068.4 242.0 1069.3 230.8 1070.2 236.8 1071.1 228.3 1072.0 242.2 1072.9 233.2 1073.8 243.2 1074.7 230.5 1075.6 247.0 1076.5 231.5 1077.4 237.6 1078.3 235.5 1079.2 248.0 1080.1 235.3 1081.0 244.0 1081.9 232.2 1082.8 241.5 1083.7 232.6 1084.6 248.5 1085.5 235.8 1086.4 242.5 1087.3 229.9 1088.2 252.4 1089.1 233.5 1090.0 242.0 1090.9 230.8 1091.8 246.8 1092.7 236.6 1093.6 248.0 1094.5 236.0 1095.4 248.2 1096.3 234.8 1097.2 250.0 1098.1 243.4 1099.0 248.5 1099.9 236.6 1100.8 248.4 1101.7 240.7 1102.6 247.4 1103.5 238.0 1104.4 247.7 1105.3 247.0 1106.2 257.1 1107.1 239.9 1108.0 256.5 1108.9 242.8 1109.8 247.1 1110.7 244.2 1111.6 257.5 1112.5 243.5 1113.4 255.1 1114.3 254.5 1115.2 259.6 1116.1 247.9 1117.0 263.1 1117.9 255.0 1118.8 265.5 1119.7 252.4 1120.6 260.9 1121.5 248.9 1122.4 263.7 1123.3 249.3 1124.2 264.1 1125.1 253.5 1126.0 265.6 1126.9 246.0 1127.8 268.0 1128.7 253.3 1129.6 267.9 1130.5 248.5 1131.4 268.7 1132.3 255.2 1133.2 272.2 1134.1 262.2 1135.0 276.5 1135.9 258.0 1136.8 266.3 1137.7 257.7 1138.6 268.7 1139.5 258.4 1140.4 271.7 1141.3 258.4 1142.2 263.9 1143.1 258.2 1144.0 272.8 1144.9 256.3 1145.8 271.0 1146.7 254.3 1147.6 272.1 1148.5 262.6 1149.4 275.2 1150.3 263.9 1151.2 273.3 1152.1 267.9 1153.0 264.4 1153.9 263.8 1154.8 276.4 1155.7 265.2 1156.6 280.0 1157.5 262.9 1158.4 276.8 1159.3 265.6 1160.2 275.6 1161.1 262.1 1162.0 279.9 1162.9 265.3 1163.8 284.0 1164.7 268.0 1165.6 279.2 1166.5 271.3 1167.4 287.2 1168.3 273.1 1169.2 281.9 1170.1 272.6 1171.0 281.1 1171.9 277.1 1172.8 285.1 1173.7 273.2 1174.6 288.2 1175.5 278.7 1176.4 286.3 1177.3 276.6 1178.2 285.9 1179.1 279.7 1180.0 285.9 1180.9 269.9 1181.8 289.1 1182.7 269.2 1183.6 289.1 1184.5 275.3 1185.4 291.9 1186.3 278.9 1187.2 288.9 1188.1 279.4 1189.0 288.4 1189.9 282.0 1190.8 294.2 1191.7 282.4 1192.6 294.8 1193.5 287.2 1194.4 290.9 1195.3 281.5 1196.2 291.3 1197.1 277.6 1198.0 290.7 1198.9 282.7 1199.8 299.0 1200.7 281.0 1201.6 296.8 1202.5 289.8 1203.4 302.0 1204.3 287.7 1205.2 305.5 1206.1 287.9 1207.0 301.1 1207.9 287.4 1208.8 302.9 1209.7 290.0 1210.6 299.4 1211.5 294.5 1212.4 300.1 1213.3 287.9 1214.2 297.5 1215.1 290.6 1216.0 307.3 1216.9 295.7 1217.8 301.6 1218.7 291.3 1219.6 305.4 1220.5 290.1 1221.4 306.0 1222.3 294.3 1223.2 300.3 1224.1 297.9 1225.0 306.1 1225.9 290.8 1226.8 308.2 1227.7 293.9 1228.6 302.7 1229.5 299.4 1230.4 315.3 1231.3 298.2 1232.2 309.8 1233.1 301.7 1234.0 309.0 1234.9 297.7 1235.8 314.8 1236.7 301.6 1237.6 317.3 1238.5 305.9 1239.4 314.6 1240.3 306.7 1241.2 316.4 1242.1 305.2 1243.0 315.0 1243.9 309.5 1244.8 311.6 1245.7 299.4 1246.6 312.6 1247.5 307.0 1248.4 317.3 1249.3 304.8 1250.2 320.5 1251.1 304.4 1252.0 327.5 1252.9 313.5 1253.8 318.8 1254.7 311.7 1255.6 321.0 1256.5 313.2 1257.4 327.0 1258.3 312.0 1259.2 328.8 1260.1 316.0 1261.0 328.7 1261.9 319.2 1262.8 328.9 1263.7 316.5 1264.6 327.2 1265.5 316.7 1266.4 333.6 1267.3 318.0 1268.2 332.9 1269.1 318.4 1270.0 328.2 1270.9 318.2 1271.8 330.2 1272.7 319.1 1273.6 326.0 1274.5 315.4 1275.4 338.3 1276.3 321.1 1277.2 335.0 1278.1 326.3 1279.0 334.2 1279.9 326.4 1280.8 333.0 1281.7 323.1 1282.6 337.9 1283.5 324.8 1284.4 335.1 1285.3 322.2 1286.2 338.3 1287.1 325.7 1288.0 333.8 1288.9 328.6 1289.8 338.0 1290.7 326.3 1291.6 337.9 1292.5 325.7 1293.4 341.8 1294.3 332.1 1295.2 342.8 1296.1 327.6 1297.0 339.9 1297.9 322.5 1298.8 339.6 1299.7 329.2 1300.6 342.4 1301.5 329.2 1302.4 337.8 1303.3 333.1 1304.2 344.3 1305.1 328.9 1306.0 341.2 1306.9 326.3 1307.8 343.0 1308.7 336.0 1309.6 349.3 1310.5 338.3 1311.4 346.0 1312.3 331.5 1313.2 343.0 1314.1 333.0 1315.0 347.3 1315.9 335.7 1316.8 345.8 1317.7 332.6 1318.6 347.9 1319.5 334.5 1320.4 345.5 1321.3 329.0 1322.2 341.8 1323.1 331.1 1324.0 339.9 1324.9 334.4 1325.8 351.6 1326.7 329.8 1327.6 353.1 1328.5 338.5 1329.4 358.4 1330.3 344.2 1331.2 356.2 1332.1 334.0 1333.0 361.2 1333.9 335.1 1334.8 352.9 1335.7 344.6 1336.6 354.7 1337.5 337.9 1338.4 356.5 1339.3 343.1 1340.2 356.1 1341.1 340.1 1342.0 359.1 1342.9 343.9 1343.8 358.2 1344.7 350.4 1345.6 365.5 1346.5 350.7 1347.4 358.7 1348.3 342.5 1349.2 355.0 1350.1 346.0 1351.0 356.4 1351.9 346.6 1352.8 359.9 1353.7 343.7 1354.6 356.6 1355.5 346.5 1356.4 361.0 1357.3 347.7 1358.2 366.0 1359.1 343.4 1360.0 361.9 1360.9 347.2 1361.8 359.7 1362.7 346.1 1363.6 363.5 1364.5 350.7 1365.4 363.0 1366.3 349.7 1367.2 362.5 1368.1 349.7 1369.0 360.1 1369.9 342.9 1370.8 360.4 1371.7 346.8 1372.6 361.1 1373.5 352.5 1374.4 353.7 1375.3 349.8 1376.2 365.7 1377.1 348.6 1378.0 361.2 1378.9 354.3 1379.8 361.9 1380.7 358.0 1381.6 365.8 1382.5 348.3 1383.4 369.5 1384.3 352.5 1385.2 363.3 1386.1 354.3 1387.0 366.1 1387.9 357.6 1388.8 366.1 1389.7 353.5 1390.6 365.8 1391.5 355.7 1392.4 366.8 1393.3 354.6 1394.2 367.0 1395.1 352.7 1396.0 367.0 1396.9 355.0 1397.8 372.0 1398.7 357.8 1399.6 372.1 1400.5 357.1 1401.4 370.3 1402.3 360.0 1403.2 369.0 1404.1 355.0 1405.0 374.0 1405.9 360.5 1406.8 370.1 1407.7 361.1 1408.6 375.7 1409.5 360.4 1410.4 368.2 1411.3 352.3 1412.2 375.2 1413.1 358.7 1414.0 365.4 1414.9 360.7 1415.8 372.6 1416.7 359.7 1417.6 370.4 1418.5 359.6 1419.4 373.0 1420.3 360.8 1421.2 372.2 1422.1 363.5 1423.0 371.8 1423.9 359.3 1424.8 371.8 1425.7 361.5 1426.6 371.5 1427.5 361.5 1428.4 372.1 1429.3 367.7 1430.2 375.7 1431.1 362.9 1432.0 380.0 1432.9 364.6 1433.8 377.7 1434.7 359.5 1435.6 369.4 1436.5 357.9 1437.4 374.8 1438.3 360.3 1439.2 376.8 1440.1 362.1 1441.0 370.4 1441.9 359.4 1442.8 376.1 1443.7 366.4 1444.6 370.9 1445.5 359.1 1446.4 378.7 1447.3 363.0 1448.2 373.7 1449.1 362.3 1450.0 377.4 1450.9 358.8 1451.8 375.6 1452.7 362.6 1453.6 377.2 1454.5 364.5 1455.4 376.2 1456.3 362.6 1457.2 372.2 1458.1 361.9 1459.0 373.8 1459.9 362.2 1460.8 377.1 1461.7 364.7 1462.6 379.2 1463.5 365.4 1464.4 376.6 1465.3 368.5 1466.2 376.7 1467.1 365.2 1468.0 374.6 1468.9 360.2 1469.8 380.4 1470.7 364.8 1471.6 382.2 1472.5 367.3 1473.4 379.5 1474.3 368.6 1475.2 375.4 1476.1 369.2 1477.0 381.6 1477.9 367.8 1478.8 390.8 1479.7 368.8 1480.6 378.8 1481.5 370.8 1482.4 379.2 1483.4 379.0 1484.3 387.6 1485.3 378.7 1486.3 388.2 1487.3 381.9 1488.3 393.7 1489.3 379.6 1490.3 388.1 1491.4 389.1 1492.5 397.4 1493.5 390.4 1494.6 399.0 1495.8 397.4 1496.9 406.5 1498.1 404.8 1499.2 410.5 1500.4 405.7 1501.6 414.8 1502.8 413.4 1504.0 420.7 1505.2 418.8 1506.4 425.6 1507.6 426.7 1508.8 431.7 1510.0 427.5 1511.2 437.6 1512.4 437.4 1513.6 446.2 1514.8 446.2 1516.0 454.2 1517.2 454.6 1518.4 462.6 1519.6 463.0 1520.8 472.8 1522.0 472.5 1523.2 480.9 1524.4 480.0 1525.6 489.1 1526.8 488.1 1528.0 498.4 1529.2 496.6 1530.4 509.6 1531.6 514.0 1532.8 526.0 1534.0 529.5 1535.2 540.3 1536.4 545.5 1537.6 555.2 1538.8 564.7 1540.0 578.2 1541.2 587.2 1542.4 601.3 1543.6 605.6 1544.8 616.9 1546.0 620.6 1547.2 635.7 1548.4 645.5 1549.6 658.0 1550.8 664.8 1552.0 675.5 1553.2 683.3 1554.4 696.5 1555.6 703.4 1556.8 718.0 1558.0 725.7 1559.2 740.1 1560.4 748.2 1561.6 760.3 1562.8 766.0 1564.0 776.5 1565.2 782.4 1566.4 795.0 1567.6 798.9 1568.8 813.0 1570.0 818.2 1571.2 828.5 1572.4 830.9 1573.6 843.3 1574.8 847.0 1576.0 858.4 1577.2 862.5 1578.4 869.6 1579.6 876.0 1580.8 892.4 1582.0 902.8 1583.2 920.8 1584.4 931.7 1585.6 949.6 1586.8 962.7 1588.0 978.8 1589.2 990.5 1590.4 1000.2 1591.6 1004.8 1592.8 1018.0 1594.0 1024.1 1595.2 1034.4 1596.4 1042.0 1597.6 1052.8 1598.8 1060.5 1600.0 1069.7 1601.2 1076.9 1602.4 1090.6 1603.6 1093.9 1604.8 1105.8 1606.0 1111.5 1607.2 1121.5 1608.4 1131.3 1609.5 1145.8 1610.7 1141.4 1611.9 1163.0 1613.0 1155.2 1614.2 1163.5 1615.4 1166.9 1616.5 1173.9 1617.7 1175.6 1618.9 1176.8 1620.0 1182.0 1621.2 1183.7 1622.3 1174.6 1623.5 1190.1 1624.6 1191.3 1625.7 1199.8 1626.9 1190.6 1628.0 1196.7 1629.1 1191.7 1630.3 1204.4 1631.4 1192.5 1632.5 1207.6 1633.6 1191.7 1634.7 1204.2 1635.9 1188.6 1637.0 1213.5 1638.1 1191.3 1639.2 1208.4 1640.3 1203.1 1641.4 1221.6 1642.5 1201.1 1643.6 1223.0 1644.7 1197.6 1645.8 1236.6 1646.9 1212.5 1648.0 1242.1 1649.1 1209.0 1650.2 1250.1 1651.3 1231.4 1652.4 1264.1 1653.5 1233.3 1654.6 1268.1 1655.7 1229.8 1656.8 1248.0 1657.9 1219.5 1659.0 1271.5 1660.1 1219.7 1661.2 1264.7 1662.3 1209.7 1663.4 1269.9 1664.5 1216.3 1665.6 1288.3 1666.7 1229.8 1667.8 1273.7 1668.9 1216.0 1670.0 1275.6 1671.1 1237.0 1672.2 1276.4 1673.3 1238.9 1674.4 1283.9 1675.5 1259.6 1676.6 1295.3 1677.7 1239.3 1678.8 1267.3 1679.9 1249.8 1681.0 1292.3 1682.1 1237.2 1683.2 1291.3 1684.3 1246.6 1685.4 1285.0 1686.5 1231.6 1687.6 1283.7 1688.7 1247.2 1689.8 1278.2 1690.9 1254.3 1692.0 1368.0 1693.1 1256.6 1694.2 1295.1 1695.3 1246.0 1696.4 1305.7 1697.5 1242.8 1698.6 1292.1 1699.7 1246.0 1700.8 1297.4 1701.9 1256.5 1703.0 1292.0 1704.1 1238.9 1705.2 1296.8 1706.3 1228.3 1707.4 1282.7 1708.5 1244.5 1709.6 1299.3 1710.7 1281.1 1711.8 1329.2 1712.9 1259.8 1714.0 1296.8 1715.1 1286.2 1716.2 1303.3 1717.3 1262.6 1718.4 1295.9 1719.5 1234.6 1720.6 1283.8 1721.7 1243.8 1722.8 1277.7 1723.9 1244.1 1725.0 1294.7 1726.1 1246.9 1727.2 1337.8 1728.3 1259.8 1729.4 1294.8 1730.5 1281.5 1731.6 1305.7 1732.7 1261.4 1733.8 1300.1 1734.9 1251.5 1736.0 1305.3 1737.1 1258.3 1738.2 1311.2 1739.3 1248.4 1740.4 1289.4 1741.5 1273.8 1742.6 1314.5 1743.7 1259.9 1744.8 1289.8 1745.9 1324.5 1747.0 1324.0 1748.1 1303.2 1749.2 1301.6 1750.3 1252.7 1751.4 1293.1 1752.5 1258.0 1753.6 1290.1 1754.7 1242.8 1755.8 1319.1 1756.9 1271.7 1758.0 1310.0 1759.1 1274.8 1760.2 1304.7 1761.3 1264.4 1762.4 1314.1 1763.5 1247.5 1764.6 1315.7 1765.7 1254.2 1766.8 1298.8 1767.9 1264.5 1769.0 1295.5 1770.1 1265.7 1771.2 1321.1 1772.3 1276.5 1773.4 1323.2 1774.5 1276.5 1775.6 1339.1 1776.7 1285.4 1777.8 1299.3 1778.9 1284.2 1780.0 1281.8 1781.1 1269.6 1782.2 1301.8 1783.3 1252.3 1784.4 1308.1 1785.5 1290.5 1786.6 1324.8 1787.7 1251.4 1788.8 1320.9 1789.9 1251.2 1791.0 1307.4 1792.1 1255.0 1793.2 1294.5 1794.3 1286.4 1795.4 1313.0 1796.5 1255.7 1797.6 1315.7 1798.7 1271.6 1799.8 1322.5 1800.9 1293.7 1802.0 1308.0 1803.1 1266.3 1804.2 1292.1 1805.3 1256.5 1806.4 1311.7 1807.5 1239.8 1808.6 1304.6 1809.7 1253.2 1810.8 1295.2 1811.9 1241.8 1813.0 1301.0 1814.1 1241.5 1815.2 1284.8 1816.3 1274.2 1817.4 1309.9 1818.5 1246.3 1819.6 1317.1 1820.7 1279.7 1821.8 1312.6 1822.9 1275.2 1824.0 1319.1 1825.1 1276.5 1826.2 1324.6 1827.3 1262.8 1828.4 1320.6 1829.5 1284.5 1830.6 1335.0 1831.7 1255.4 1832.8 1337.5 1833.9 1270.5 1835.0 1298.0 1836.1 1285.6 1837.2 1324.0 1838.3 1273.5 1839.4 1336.9 1840.5 1255.2 1841.6 1301.1 1842.7 1265.8 1843.8 1308.5 1844.9 1270.7 1846.0 1306.7 1847.1 1268.4 1848.2 1313.2 1849.3 1264.5 1850.4 1341.3 1851.5 1254.1 1852.6 1328.7 1853.7 1268.4 1854.8 1327.3 1855.9 1269.5 1857.0 1314.8 1858.1 1273.8 1859.2 1325.5 1860.3 1267.6 1861.4 1307.2 1862.5 1261.5 1863.6 1285.9 1864.7 1280.9 1865.8 1328.7 1866.9 1267.6 1868.0 1341.7 1869.1 1272.6 1870.2 1331.8 1871.3 1260.4 1872.4 1301.2 1873.5 1262.2 1874.6 1331.1 1875.7 1281.7 1876.8 1330.3 1877.9 1266.0 1879.0 1333.5 1880.1 1284.5 1881.2 1294.9 1882.3 1289.4 1883.4 1342.0 1884.5 1270.1 1885.6 1330.6 1886.7 1280.2 1887.8 1329.5 1888.9 1276.1 1890.0 1340.6 1891.1 1287.1 1892.2 1312.8 1893.3 1276.8 1894.4 1343.8 1895.5 1317.6 1896.6 1343.7 1897.7 1314.9 1898.8 1358.0 1899.9 1288.3 1901.0 1342.5 1902.1 1276.8 1903.2 1316.1 1904.3 1298.3 1905.4 1354.0 1906.5 1286.2 1907.6 1323.4 1908.7 1297.9 1909.8 1313.9 1910.9 1284.5 1912.0 1330.2 1913.1 1279.6 1914.2 1317.7 1915.3 1289.5 1916.4 1333.0 1917.5 1293.3 1918.6 1287.8 1919.7 1311.2 1920.8 1368.0 1921.9 1285.0 1923.0 1330.7 1924.1 1304.1 1925.2 1329.5 1926.3 1289.8 1927.4 1350.6 1928.5 1324.9 1929.6 1358.0 1930.7 1281.2 1931.8 1338.1 1932.9 1273.9 1934.0 1339.6 1935.1 1248.0 1936.2 1344.0 1937.3 1283.9 1938.4 1331.4 1939.5 1286.5 1940.6 1345.3 1941.7 1267.7 1942.8 1330.1 1943.9 1303.2 1945.0 1329.6 1946.1 1287.7 1947.2 1306.0 1948.3 1286.7 1949.4 1303.7 1950.5 1271.0 1951.6 1339.2 1952.7 1269.9 1953.8 1327.0 1954.9 1294.0 1956.0 1349.0 1957.1 1318.9 1958.2 1339.8 1959.3 1293.2 1960.4 1329.3 1961.5 1282.1 1962.6 1341.5 1963.7 1271.6 1964.8 1330.0 1965.9 1285.3 1967.0 1362.9 1968.1 1281.7 1969.2 1309.4 1970.3 1290.6 1971.4 1359.2 1972.5 1308.5 1973.6 1348.0 1974.7 1298.0 1975.8 1365.8 1976.9 1305.5 1978.0 1345.7 1979.1 1285.7 1980.2 1389.1 1981.3 1254.9 1982.4 1351.4 1983.5 1263.4 1984.6 1296.1 1985.7 1299.6 1986.8 1317.0 1987.9 1265.9 1989.0 1356.9 1990.1 1272.0 1991.2 1296.5 1992.3 1289.1 1993.4 1305.1 1994.5 1302.4 1995.6 1328.5 1996.7 1296.8 1997.8 1321.3 1998.9 1288.4 2000.0 1332.8 2001.1 1301.8 2002.2 1329.3 2003.3 1284.9 2004.4 1355.6 2005.5 1273.7 2006.6 1316.6 2007.7 1266.9 2008.8 1317.2 2009.9 1263.7 2011.0 1335.8 2012.1 1291.4 2013.2 1305.3 2014.3 1256.6 2015.4 1320.4" fill="none" stroke="#ff3b3b" stroke-width="4.6" stroke-linejoin="round" stroke-linecap="butt"/>
<path d="M262.0 342.7 262.9 214.0 263.8 411.0 264.7 270.2 265.6 225.0 266.5 276.8 267.4 405.0 268.3 240.0 269.2 325.1 270.1 395.0 271.0 312.0 271.9 255.0 272.8 380.0 273.7 256.9 274.6 299.8 275.5 235.0 276.4 325.4 277.3 273.7 278.2 320.1 279.1 264.2 280.0 311.8 280.9 274.3 281.8 339.3 282.7 274.5 283.6 330.2 284.5 264.2 285.4 321.4 286.3 259.5 287.2 313.6 288.1 264.3 289.0 320.9 289.9 236.0 290.8 308.0 291.7 268.4 292.6 308.0 293.5 318.5 294.4 378.0 295.3 319.5 296.2 308.2 297.1 274.6 298.0 317.0 298.9 260.9 299.8 304.2 300.7 266.2 301.6 303.2 302.5 272.6 303.4 326.0 304.3 269.1 305.2 303.3 306.1 272.0 307.0 306.2 307.9 280.2 308.8 324.0 309.7 272.6 310.6 306.7 311.5 270.8 312.4 300.1 313.3 261.4 314.2 300.1 315.1 272.3 316.0 311.8 316.9 270.9 317.8 303.2 318.7 258.2 319.6 301.3 320.5 270.7 321.4 308.9 322.3 253.5 323.2 323.6 324.1 259.7 325.0 300.1 325.9 263.2 326.8 278.4 327.7 249.3 328.6 301.4 329.5 260.1 330.4 281.4 331.3 276.0 332.2 283.7 333.1 287.1 334.0 286.6 334.9 263.8 335.8 291.8 336.7 279.9 337.6 316.0 338.5 280.6 339.4 289.6 340.3 245.9 341.2 284.2 342.1 234.2 343.0 282.2 343.9 236.1 344.8 274.9 345.7 244.5 346.6 286.8 347.5 247.0 348.4 269.4 349.3 226.9 350.2 285.4 351.1 247.3 352.0 266.7 352.9 244.2 353.8 284.8 354.7 229.5 355.6 258.4 356.5 242.7 357.4 276.7 358.3 242.5 359.2 272.4 360.1 240.9 361.0 265.5 361.9 229.0 362.8 265.8 363.7 221.2 364.6 265.2 365.5 221.9 366.4 278.8 367.3 242.4 368.2 264.4 369.1 256.2 370.0 286.0 370.9 258.8 371.8 258.9 372.7 220.4 373.6 262.7 374.5 221.2 375.4 249.9 376.3 226.8 377.2 259.7 378.1 213.8 379.0 248.1 379.9 201.6 380.8 208.6 381.7 180.0 382.6 214.2 383.5 192.2 384.4 228.4 385.3 202.1 386.2 239.5 387.1 196.8 388.0 254.8 388.9 208.0 389.8 246.1 390.7 220.4 391.6 238.8 392.5 196.7 393.4 230.2 394.3 210.5 395.2 228.4 396.1 194.9 397.0 239.1 397.9 199.7 398.8 220.0 399.7 208.2 400.6 236.9 401.5 200.3 402.4 231.4 403.3 203.2 404.2 232.1 405.1 201.4 406.0 229.8 406.9 196.6 407.8 223.4 408.7 207.6 409.6 233.9 410.5 203.4 411.4 232.1 412.3 191.8 413.2 236.3 414.1 205.5 415.0 231.6 415.9 202.0 416.8 237.2 417.7 188.4 418.6 225.4 419.5 198.4 420.4 229.8 421.3 191.3 422.2 229.6 423.1 200.7 424.0 237.0 424.9 205.2 425.8 248.1 426.7 202.4 427.6 224.7 428.5 202.3 429.4 241.7 430.3 195.0 431.2 226.0 432.1 179.2 433.0 170.0 433.9 184.6 434.8 223.9 435.7 185.8 436.6 225.2 437.5 202.2 438.4 222.3 439.3 188.9 440.2 218.0 441.1 200.0 442.0 220.4 442.9 200.5 443.8 233.6 444.7 201.6 445.6 230.7 446.5 204.8 447.4 237.0 448.3 207.9 449.2 228.6 450.1 207.9 451.0 220.8 451.9 200.2 452.8 221.5 453.7 206.0 454.6 227.4 455.5 207.1 456.4 237.4 457.3 201.5 458.2 235.5 459.1 210.5 460.0 233.1 460.9 210.7 461.8 237.7 462.7 217.8 463.6 231.1 464.5 217.0 465.4 240.1 466.3 221.9 467.2 232.2 468.1 215.6 469.0 239.8 469.9 223.5 470.8 238.3 471.7 223.5 472.6 239.7 473.5 219.7 474.4 234.9 475.3 228.3 476.2 243.5 477.1 228.1 478.0 240.8 478.9 229.3 479.8 245.5 480.7 238.0 481.6 248.4 482.5 235.7 483.4 250.8 484.3 239.1 485.2 243.5 486.1 233.2 487.0 246.5 487.9 230.1 488.8 243.4 489.7 235.8 490.6 250.2 491.5 235.9 492.4 247.6 493.3 231.6 494.2 244.8 495.1 232.9 496.0 242.0 496.9 233.1 497.8 246.8 498.7 231.3 499.6 245.2 500.5 236.4 501.4 243.6 502.3 228.3 503.2 248.5 504.1 238.3 505.0 247.5 505.9 238.0 506.8 247.1 507.7 234.8 508.6 244.3 509.5 233.5 510.4 249.3 511.3 237.1 512.2 244.7 513.1 235.6 514.0 242.7 514.9 237.1 515.8 246.9 516.7 230.4 517.6 244.3 518.5 232.4 519.4 249.3 520.3 230.3 521.2 248.3 522.1 235.1 523.0 245.5 523.9 234.7 524.8 253.0 525.7 234.5 526.6 247.1 527.5 234.6 528.4 249.5 529.3 228.2 530.2 249.7 531.1 231.0 532.0 248.2 532.9 233.4 533.8 247.7 534.7 228.8 535.6 246.5 536.5 230.2 537.4 248.9 538.3 234.3 539.2 243.8 540.1 240.2 541.0 250.7 541.9 235.8 542.8 251.3 543.7 228.4 544.6 246.1 545.5 239.0 546.4 249.4 547.3 236.7 548.2 251.6 549.1 238.8 550.0 248.5 550.9 233.1 551.8 252.5 552.7 233.9 553.6 245.2 554.5 232.0 555.4 237.6 556.3 230.2 557.2 247.1 558.1 233.7 559.0 242.5 559.9 228.1 560.8 243.9 561.7 232.7 562.6 246.2 563.5 234.0 564.4 246.3 565.3 238.3 566.2 240.2 567.1 234.4 568.0 248.2 568.9 236.3 569.8 245.9 570.7 229.4 571.6 243.1 572.5 229.2 573.4 242.0 574.3 232.3 575.2 244.9 576.1 227.5 577.0 240.6 577.9 231.3 578.8 241.3 579.7 228.3 580.6 242.3 581.5 228.1 582.4 240.1 583.3 229.9 584.2 238.0 585.1 226.6 586.0 236.7 586.9 231.6 587.8 241.9 588.7 226.5 589.6 240.5 590.5 227.4 591.4 244.5 592.3 227.1 593.2 241.3 594.1 229.6 595.0 240.1 595.9 231.0 596.8 243.0 597.7 226.4 598.6 240.2 599.5 228.8 600.4 244.6 601.3 229.3 602.2 239.0 603.1 224.1 604.0 243.1 604.9 230.4 605.8 237.1 606.7 219.4 607.6 233.4 608.5 219.2 609.4 237.0 610.3 222.7 611.2 238.3 612.1 221.6 613.0 234.5 613.9 221.7 614.8 228.7 615.7 214.0 616.6 230.3 617.5 221.3 618.4 235.0 619.3 222.3 620.2 231.7 621.1 221.1 622.0 237.4 622.9 225.6 623.8 231.1 624.7 220.0 625.6 240.1 626.5 215.2 627.4 229.7 628.3 220.3 629.2 230.5 630.1 218.9 631.0 233.9 631.9 219.3 632.8 226.1 633.7 219.7 634.6 228.5 635.5 220.1 636.4 225.0 637.3 214.9 638.2 226.6 639.1 215.3 640.0 230.1 640.9 211.3 641.8 225.1 642.7 219.0 643.6 224.8 644.5 211.5 645.4 225.7 646.3 212.2 647.2 227.3 648.1 210.8 649.0 229.0 649.9 218.1 650.8 230.6 651.7 215.1 652.6 227.9 653.5 209.8 654.4 227.0 655.3 217.6 656.2 227.3 657.1 211.1 658.0 229.6 658.9 208.2 659.8 224.4 660.7 214.2 661.6 219.1 662.5 201.4 663.4 216.8 664.3 209.7 665.2 225.3 666.1 207.3 667.0 221.4 667.9 207.3 668.8 218.7 669.7 205.4 670.6 222.7 671.5 197.1 672.4 216.8 673.3 207.7 674.2 215.4 675.1 209.2 676.0 220.3 676.9 211.1 677.8 221.2 678.7 209.8 679.6 217.1 680.5 206.6 681.4 219.2 682.3 202.1 683.2 216.5 684.1 205.0 685.0 211.3 685.9 204.4 686.8 221.1 687.7 203.1 688.6 212.0 689.5 205.3 690.4 217.7 691.3 201.4 692.2 219.9 693.1 206.6 694.0 219.0 694.9 208.4 695.8 221.5 696.7 207.1 697.6 222.3 698.5 208.7 699.4 216.8 700.3 209.1 701.2 219.4 702.1 209.2 703.0 224.2 703.9 208.6 704.8 218.1 705.7 206.3 706.6 221.6 707.5 201.8 708.4 221.9 709.3 200.4 710.2 216.9 711.1 203.8 712.0 220.9 712.9 205.8 713.8 217.8 714.7 207.2 715.6 218.4 716.5 206.4 717.4 219.5 718.3 200.5 719.2 222.5 720.1 204.2 721.0 220.0 721.9 208.1 722.8 216.0 723.7 202.0 724.6 217.2 725.5 203.3 726.4 212.6 727.3 202.6 728.2 210.4 729.1 198.9 730.0 219.4 730.9 202.9 731.8 213.0 732.7 201.3 733.6 212.1 734.5 204.9 735.4 213.9 736.3 197.5 737.2 219.7 738.1 196.8 739.0 218.2 739.9 201.5 740.8 216.9 741.7 200.2 742.6 217.4 743.5 206.4 744.4 208.6 745.3 203.0 746.2 218.1 747.1 200.7 748.0 210.0 748.9 197.8 749.8 212.2 750.7 201.7 751.6 218.8 752.5 204.1 753.4 212.8 754.3 208.2 755.2 214.9 756.1 203.6 757.0 220.6 757.9 208.0 758.8 215.8 759.7 205.6 760.6 208.4 761.5 201.5 762.4 218.0 763.3 199.4 764.2 216.8 765.1 205.2 766.0 218.6 766.9 207.3 767.8 221.1 768.7 204.9 769.6 218.0 770.5 210.2 771.4 221.4 772.3 204.5 773.2 217.9 774.1 202.7 775.0 216.1 775.9 203.8 776.8 216.2 777.7 205.3 778.6 209.8 779.5 203.7 780.4 216.7 781.3 206.9 782.2 215.1 783.1 209.1 784.0 218.7 784.9 201.4 785.8 221.3 786.7 205.3 787.6 216.9 788.5 203.3 789.4 223.5 790.3 206.1 791.2 222.6 792.1 205.6 793.0 222.2 793.9 208.5 794.8 220.8 795.7 212.7 796.6 225.1 797.5 211.0 798.4 218.6 799.3 204.6 800.2 220.6 801.1 209.9 802.0 220.8 802.9 211.7 803.8 216.0 804.7 208.7 805.6 227.5 806.5 206.2 807.4 220.3 808.3 212.1 809.2 224.5 810.1 206.5 811.0 219.6 811.9 212.8 812.8 221.4 813.7 208.4 814.6 223.1 815.5 206.1 816.4 219.9 817.3 209.5 818.2 225.6 819.1 206.9 820.0 223.0 820.9 205.5 821.8 220.3 822.7 206.0 823.6 220.7 824.5 207.8 825.4 222.5 826.3 202.7 827.2 221.8 828.1 215.0 829.0 221.4 829.9 214.8 830.8 222.2 831.7 209.5 832.6 218.0 833.5 211.4 834.4 222.5 835.3 210.7 836.2 224.2 837.1 213.8 838.0 225.5 838.9 216.3 839.8 222.1 840.7 206.3 841.6 226.1 842.5 209.5 843.4 222.6 844.3 209.1 845.2 223.6 846.1 203.5 847.0 222.2 847.9 211.9 848.8 223.3 849.7 203.9 850.6 225.8 851.5 204.0 852.4 227.7 853.3 215.7 854.2 220.5 855.1 213.3 856.0 221.9 856.9 211.7 857.8 222.6 858.7 217.4 859.6 219.9 860.5 209.6 861.4 227.9 862.3 210.2 863.2 221.4 864.1 214.0 865.0 228.1 865.9 206.2 866.8 229.5 867.7 210.4 868.6 222.3 869.5 207.7 870.4 221.4 871.3 213.7 872.2 223.4 873.1 213.5 874.0 226.7 874.9 210.2 875.8 219.4 876.7 210.6 877.6 227.8 878.5 212.8 879.4 226.0 880.3 214.1 881.2 220.1 882.1 209.3 883.0 221.2 883.9 212.0 884.8 221.7 885.7 212.0 886.6 224.5 887.5 209.8 888.4 220.6 889.3 212.0 890.2 222.4 891.1 215.3 892.0 224.2 892.9 210.7 893.8 224.9 894.7 209.9 895.6 222.6 896.5 218.2 897.4 228.1 898.3 206.9 899.2 226.7 900.1 207.0 901.0 226.8 901.9 216.1 902.8 224.2 903.7 213.1 904.6 225.1 905.5 215.8 906.4 224.2 907.3 215.2 908.2 227.0 909.1 214.8 910.0 223.9 910.9 209.8 911.8 218.8 912.7 212.9 913.6 228.5 914.5 213.7 915.4 225.5 916.3 211.4 917.2 222.3 918.1 213.0 919.0 224.8 919.9 211.8 920.8 227.2 921.7 218.3 922.6 224.4 923.5 211.7 924.4 226.9 925.3 215.4 926.2 228.5 927.1 213.6 928.0 226.8 928.9 214.1 929.8 232.0 930.7 216.5 931.6 224.9 932.5 217.3 933.4 226.8 934.3 215.7 935.2 229.5 936.1 214.0 937.0 219.5 937.9 211.9 938.8 228.7 939.7 213.3 940.6 227.5 941.5 207.4 942.4 226.5 943.3 210.9 944.2 228.0 945.1 211.5 946.0 223.7 946.9 210.6 947.8 226.5 948.7 213.7 949.6 228.4 950.5 208.5 951.4 228.1 952.3 214.5 953.2 226.1 954.1 217.3 955.0 224.7 955.9 215.8 956.8 233.7 957.7 218.4 958.6 228.2 959.5 213.0 960.4 230.2 961.3 214.5 962.2 233.9 963.1 220.4 964.0 228.6 964.9 221.5 965.8 229.5 966.7 218.3 967.6 226.0 968.5 217.4 969.4 225.6 970.3 216.9 971.2 225.0 972.1 218.9 973.0 231.2 973.9 218.8 974.8 234.0 975.7 213.3 976.6 229.4 977.5 213.3 978.4 228.1 979.3 217.5 980.2 226.9 981.1 221.2 982.0 235.4 982.9 212.2 983.8 229.9 984.7 222.3 985.6 232.2 986.5 219.5 987.4 231.7 988.3 213.8 989.2 227.0 990.1 218.1 991.0 224.5 991.9 218.3 992.8 224.3 993.7 219.1 994.6 227.2 995.5 213.4 996.4 223.8 997.3 214.8 998.2 226.6 999.1 217.6 1000.0 226.1 1000.9 217.0 1001.8 224.7 1002.7 212.5 1003.6 233.7 1004.5 211.9 1005.4 225.3 1006.3 222.8 1007.2 227.6 1008.1 218.5 1009.0 229.0 1009.9 222.8 1010.8 232.4 1011.7 219.5 1012.6 231.7 1013.5 219.6 1014.4 231.6 1015.3 219.8 1016.2 225.0 1017.1 218.8 1018.0 235.5 1018.9 216.7 1019.8 235.6 1020.7 216.2 1021.6 229.0 1022.5 220.8 1023.4 229.0 1024.3 222.9 1025.2 233.8 1026.1 222.3 1027.0 232.8 1027.9 224.3 1028.8 231.4 1029.7 222.1 1030.6 235.4 1031.5 216.7 1032.4 233.4 1033.3 223.6 1034.2 246.7 1035.1 229.6 1036.0 237.3 1036.9 227.8 1037.8 233.3 1038.7 218.9 1039.6 236.4 1040.5 219.1 1041.4 241.1 1042.3 223.4 1043.2 243.9 1044.1 227.5 1045.0 238.2 1045.9 225.0 1046.8 233.9 1047.7 228.8 1048.6 241.6 1049.5 224.6 1050.4 239.6 1051.3 227.5 1052.2 235.2 1053.1 227.5 1054.0 238.8 1054.9 231.2 1055.8 244.5 1056.7 228.6 1057.6 241.5 1058.5 229.2 1059.4 242.4 1060.3 233.4 1061.2 246.5 1062.1 231.3 1063.0 245.2 1063.9 229.7 1064.8 244.8 1065.7 233.8 1066.6 236.9 1067.5 233.8 1068.4 242.2 1069.3 236.4 1070.2 247.3 1071.1 231.6 1072.0 246.5 1072.9 230.1 1073.8 244.3 1074.7 240.5 1075.6 248.2 1076.5 236.5 1077.4 251.7 1078.3 235.2 1079.2 246.2 1080.1 238.8 1081.0 258.6 1081.9 235.1 1082.8 256.6 1083.7 238.3 1084.6 260.3 1085.5 241.2 1086.4 251.9 1087.3 245.2 1088.2 254.0 1089.1 241.9 1090.0 265.0 1090.9 241.6 1091.8 255.1 1092.7 247.5 1093.6 255.0 1094.5 239.3 1095.4 256.7 1096.3 245.7 1097.2 255.3 1098.1 244.8 1099.0 254.6 1099.9 241.0 1100.8 256.3 1101.7 248.7 1102.6 261.4 1103.5 245.1 1104.4 269.6 1105.3 250.8 1106.2 267.7 1107.1 251.8 1108.0 267.1 1108.9 253.4 1109.8 268.6 1110.7 259.2 1111.6 262.4 1112.5 249.8 1113.4 268.3 1114.3 257.2 1115.2 266.1 1116.1 253.9 1117.0 268.5 1117.9 259.7 1118.8 273.7 1119.7 256.1 1120.6 272.7 1121.5 258.8 1122.4 267.4 1123.3 267.9 1124.2 272.3 1125.1 258.0 1126.0 274.4 1126.9 264.5 1127.8 278.1 1128.7 268.1 1129.6 277.1 1130.5 260.8 1131.4 273.9 1132.3 264.8 1133.2 276.1 1134.1 266.5 1135.0 277.2 1135.9 267.1 1136.8 283.6 1137.7 271.5 1138.6 280.5 1139.5 274.3 1140.4 282.4 1141.3 271.1 1142.2 286.3 1143.1 274.0 1144.0 285.8 1144.9 271.3 1145.8 287.1 1146.7 267.2 1147.6 284.8 1148.5 278.4 1149.4 284.4 1150.3 277.8 1151.2 294.1 1152.1 281.9 1153.0 301.7 1153.9 281.5 1154.8 296.9 1155.7 277.1 1156.6 298.8 1157.5 281.5 1158.4 293.7 1159.3 287.9 1160.2 301.6 1161.1 287.2 1162.0 299.1 1162.9 291.7 1163.8 301.0 1164.7 287.7 1165.6 307.1 1166.5 290.8 1167.4 307.5 1168.3 294.3 1169.2 304.1 1170.1 292.6 1171.0 311.8 1171.9 293.7 1172.8 306.2 1173.7 295.0 1174.6 302.5 1175.5 296.9 1176.4 304.5 1177.3 299.7 1178.2 306.5 1179.1 303.6 1180.0 311.5 1180.9 292.2 1181.8 311.6 1182.7 291.2 1183.6 315.9 1184.5 298.1 1185.4 310.5 1186.3 302.7 1187.2 312.9 1188.1 304.7 1189.0 315.2 1189.9 304.2 1190.8 321.7 1191.7 304.8 1192.6 325.0 1193.5 307.1 1194.4 317.4 1195.3 301.8 1196.2 312.2 1197.1 306.2 1198.0 313.9 1198.9 308.6 1199.8 317.3 1200.7 308.6 1201.6 318.9 1202.5 307.6 1203.4 321.7 1204.3 308.5 1205.2 323.8 1206.1 313.3 1207.0 329.8 1207.9 316.6 1208.8 324.6 1209.7 308.6 1210.6 326.9 1211.5 313.4 1212.4 326.4 1213.3 310.8 1214.2 331.0 1215.1 321.0 1216.0 329.4 1216.9 319.1 1217.8 333.4 1218.7 313.6 1219.6 330.7 1220.5 315.0 1221.4 328.7 1222.3 319.4 1223.2 336.3 1224.1 326.5 1225.0 338.2 1225.9 322.3 1226.8 337.7 1227.7 327.1 1228.6 339.2 1229.5 329.3 1230.4 341.1 1231.3 331.4 1232.2 345.3 1233.1 326.1 1234.0 345.6 1234.9 332.9 1235.8 342.4 1236.7 324.3 1237.6 342.2 1238.5 330.3 1239.4 340.8 1240.3 329.9 1241.2 347.0 1242.1 336.8 1243.0 348.4 1243.9 332.7 1244.8 348.4 1245.7 330.8 1246.6 350.8 1247.5 337.7 1248.4 349.7 1249.3 334.5 1250.2 350.8 1251.1 335.5 1252.0 353.7 1252.9 345.3 1253.8 353.4 1254.7 341.9 1255.6 353.9 1256.5 342.3 1257.4 354.9 1258.3 343.6 1259.2 359.1 1260.1 348.6 1261.0 364.1 1261.9 351.4 1262.8 362.1 1263.7 358.1 1264.6 364.7 1265.5 351.9 1266.4 366.8 1267.3 352.1 1268.2 363.9 1269.1 351.0 1270.0 364.6 1270.9 351.6 1271.8 363.4 1272.7 353.6 1273.6 370.0 1274.5 356.5 1275.4 369.3 1276.3 355.2 1277.2 380.8 1278.1 365.5 1279.0 372.7 1279.9 363.9 1280.8 384.0 1281.7 361.6 1282.6 377.7 1283.5 361.3 1284.4 374.7 1285.3 363.5 1286.2 380.4 1287.1 363.7 1288.0 373.4 1288.9 366.0 1289.8 380.8 1290.7 365.9 1291.6 377.5 1292.5 368.9 1293.4 386.0 1294.3 372.2 1295.2 385.7 1296.1 372.5 1297.0 384.7 1297.9 376.0 1298.8 387.4 1299.7 379.3 1300.6 389.0 1301.5 379.7 1302.4 391.6 1303.3 368.2 1304.2 380.5 1305.1 381.5 1306.0 394.6 1306.9 378.1 1307.8 394.3 1308.7 379.3 1309.6 396.5 1310.5 378.0 1311.4 397.0 1312.3 385.3 1313.2 397.5 1314.1 385.2 1315.0 399.7 1315.9 390.6 1316.8 405.7 1317.7 388.6 1318.6 398.8 1319.5 390.3 1320.4 399.7 1321.3 391.8 1322.2 401.8 1323.1 395.4 1324.0 408.2 1324.9 398.6 1325.8 410.1 1326.7 399.8 1327.6 400.9 1328.5 393.9 1329.4 412.6 1330.3 396.8 1331.2 410.3 1332.1 396.4 1333.0 410.0 1333.9 394.6 1334.8 410.7 1335.7 400.2 1336.6 415.3 1337.5 400.9 1338.4 415.4 1339.3 408.9 1340.2 422.3 1341.1 408.1 1342.0 421.1 1342.9 411.6 1343.8 421.3 1344.7 408.5 1345.6 422.5 1346.5 407.4 1347.4 423.0 1348.3 414.0 1349.2 425.3 1350.1 410.3 1351.0 424.1 1351.9 409.0 1352.8 426.0 1353.7 416.0 1354.6 428.5 1355.5 411.0 1356.4 417.9 1357.3 420.1 1358.2 425.1 1359.1 415.5 1360.0 430.7 1360.9 418.1 1361.8 427.3 1362.7 413.9 1363.6 427.1 1364.5 424.0 1365.4 434.5 1366.3 412.7 1367.2 433.9 1368.1 419.4 1369.0 436.3 1369.9 416.9 1370.8 431.1 1371.7 420.0 1372.6 432.1 1373.5 425.6 1374.4 439.5 1375.3 419.7 1376.2 436.7 1377.1 428.8 1378.0 440.1 1378.9 417.4 1379.8 437.4 1380.7 427.0 1381.6 441.7 1382.5 431.2 1383.4 439.6 1384.3 429.5 1385.2 445.9 1386.1 430.0 1387.0 450.5 1387.9 424.9 1388.8 445.1 1389.7 438.8 1390.6 449.3 1391.5 434.3 1392.4 443.7 1393.3 432.1 1394.2 446.4 1395.1 437.5 1396.0 450.9 1396.9 432.4 1397.8 448.3 1398.7 437.4 1399.6 449.9 1400.5 432.9 1401.4 452.7 1402.3 436.4 1403.2 452.9 1404.1 441.7 1405.0 448.2 1405.9 438.8 1406.8 455.7 1407.7 438.3 1408.6 457.0 1409.5 446.8 1410.4 452.1 1411.3 447.5 1412.2 456.5 1413.1 447.1 1414.0 458.4 1414.9 446.0 1415.8 459.4 1416.7 436.6 1417.6 454.1 1418.5 445.6 1419.4 454.2 1420.3 445.5 1421.2 459.8 1422.1 450.2 1423.0 465.5 1423.9 451.1 1424.8 461.4 1425.7 454.5 1426.6 468.8 1427.5 458.1 1428.4 468.5 1429.3 462.2 1430.2 470.8 1431.1 456.9 1432.0 475.0 1432.9 459.6 1433.8 471.4 1434.7 463.2 1435.6 479.8 1436.5 460.8 1437.4 475.4 1438.3 466.5 1439.2 479.9 1440.1 477.0 1441.0 482.6 1441.9 478.3 1442.8 483.6 1443.7 470.4 1444.6 484.6 1445.5 472.1 1446.4 491.0 1447.3 472.6 1448.2 480.3 1449.1 474.2 1450.0 485.4 1450.9 475.3 1451.8 494.4 1452.7 478.3 1453.6 486.3 1454.5 477.9 1455.4 494.5 1456.3 478.2 1457.2 496.4 1458.1 481.7 1459.0 495.4 1459.9 484.9 1460.8 500.2 1461.7 490.9 1462.6 502.7 1463.5 489.5 1464.4 501.4 1465.3 493.4 1466.2 502.2 1467.1 495.1 1468.0 506.9 1468.9 499.6 1469.8 505.1 1470.7 504.8 1471.6 506.9 1472.5 505.6 1473.4 512.4 1474.3 508.0 1475.2 515.4 1476.1 509.1 1477.0 515.8 1477.9 512.5 1478.8 521.3 1479.7 515.3 1480.6 520.8 1481.5 518.1 1482.4 524.1 1483.4 518.0 1484.3 527.1 1485.3 523.1 1486.3 531.1 1487.3 525.4 1488.3 532.9 1489.3 525.7 1490.3 535.5 1491.4 532.6 1492.5 539.6 1493.5 537.3 1494.6 548.5 1495.8 542.5 1496.9 546.9 1498.1 547.9 1499.2 557.4 1500.4 551.6 1501.6 565.3 1502.8 562.5 1504.0 569.8 1505.2 565.8 1506.4 576.7 1507.6 576.7 1508.8 586.4 1510.0 582.8 1511.2 590.6 1512.4 587.0 1513.6 596.1 1514.8 594.2 1516.0 604.4 1517.2 601.5 1518.4 609.6 1519.6 609.7 1520.8 619.3 1522.0 617.8 1523.2 624.8 1524.4 624.3 1525.6 639.4 1526.8 638.1 1528.0 651.5 1529.2 652.5 1530.4 664.5 1531.6 664.1 1532.8 677.6 1534.0 676.3 1535.2 689.2 1536.4 689.0 1537.6 703.4 1538.8 702.2 1540.0 711.3 1541.2 713.6 1542.4 726.5 1543.6 726.2 1544.8 738.8 1546.0 737.6 1547.2 750.3 1548.4 755.0 1549.6 770.1 1550.8 774.8 1552.0 790.8 1553.2 791.8 1554.4 810.5 1555.6 813.8 1556.8 823.3 1558.0 830.0 1559.2 842.8 1560.4 846.3 1561.6 859.9 1562.8 861.9 1564.0 875.5 1565.2 873.4 1566.4 886.4 1567.6 887.4 1568.8 895.9 1570.0 894.0 1571.2 901.5 1572.4 899.7 1573.6 907.8 1574.8 906.6 1576.0 914.5 1577.2 912.7 1578.4 925.4 1579.6 925.7 1580.8 934.7 1582.0 938.8 1583.2 946.0 1584.4 946.2 1585.6 954.6 1586.8 953.6 1588.0 959.7 1589.2 958.6 1590.4 966.8 1591.6 965.1 1592.8 971.0 1594.0 972.5 1595.2 982.0 1596.4 980.1 1597.6 985.3 1598.8 978.1 1600.0 993.0 1601.2 995.9 1602.4 1006.9 1603.6 1009.3 1604.8 1016.0 1606.0 1018.6 1607.2 1027.8 1608.4 1024.8 1609.5 1028.7 1610.7 1031.9 1611.9 1039.5 1613.0 1038.5 1614.2 1043.9 1615.4 1044.4 1616.5 1044.9 1617.7 1046.0 1618.9 1056.4 1620.0 1043.9 1621.2 1061.3 1622.3 1057.2 1623.5 1070.3 1624.6 1056.8 1625.7 1070.3 1626.9 1079.5 1628.0 1082.7 1629.1 1078.1 1630.3 1095.8 1631.4 1090.0 1632.5 1104.7 1633.6 1084.0 1634.7 1104.7 1635.9 1092.8 1637.0 1100.9 1638.1 1097.2 1639.2 1114.0 1640.3 1100.0 1641.4 1106.9 1642.5 1104.0 1643.6 1106.1 1644.7 1096.4 1645.8 1109.3 1646.9 1117.9 1648.0 1132.0 1649.1 1106.0 1650.2 1128.0 1651.3 1111.4 1652.4 1141.9 1653.5 1105.6 1654.6 1133.1 1655.7 1126.4 1656.8 1136.3 1657.9 1109.3 1659.0 1150.6 1660.1 1134.3 1661.2 1138.1 1662.3 1111.2 1663.4 1120.2 1664.5 1128.0 1665.6 1144.3 1666.7 1122.6 1667.8 1139.6 1668.9 1133.5 1670.0 1146.6 1671.1 1128.3 1672.2 1147.8 1673.3 1117.6 1674.4 1156.2 1675.5 1116.2 1676.6 1151.6 1677.7 1133.5 1678.8 1149.3 1679.9 1132.1 1681.0 1156.4 1682.1 1123.7 1683.2 1162.7 1684.3 1120.2 1685.4 1151.4 1686.5 1112.5 1687.6 1152.3 1688.7 1138.6 1689.8 1134.8 1690.9 1134.6 1692.0 1143.3 1693.1 1144.8 1694.2 1154.9 1695.3 1131.3 1696.4 1170.5 1697.5 1146.0 1698.6 1180.6 1699.7 1130.3 1700.8 1176.0 1701.9 1153.8 1703.0 1180.6 1704.1 1129.0 1705.2 1151.0 1706.3 1143.7 1707.4 1164.9 1708.5 1138.2 1709.6 1191.1 1710.7 1138.1 1711.8 1169.0 1712.9 1142.6 1714.0 1162.9 1715.1 1149.6 1716.2 1185.7 1717.3 1153.3 1718.4 1180.6 1719.5 1128.1 1720.6 1190.3 1721.7 1158.9 1722.8 1199.5 1723.9 1149.2 1725.0 1200.3 1726.1 1142.7 1727.2 1185.4 1728.3 1208.3 1729.4 1189.3 1730.5 1140.7 1731.6 1190.4 1732.7 1140.5 1733.8 1194.6 1734.9 1165.3 1736.0 1183.4 1737.1 1158.3 1738.2 1237.7 1739.3 1181.2 1740.4 1189.7 1741.5 1182.0 1742.6 1199.6 1743.7 1145.3 1744.8 1173.2 1745.9 1172.3 1747.0 1193.3 1748.1 1139.8 1749.2 1201.0 1750.3 1152.8 1751.4 1185.1 1752.5 1146.7 1753.6 1183.5 1754.7 1182.1 1755.8 1202.6 1756.9 1203.5 1758.0 1210.9 1759.1 1162.9 1760.2 1203.8 1761.3 1163.0 1762.4 1180.4 1763.5 1191.7 1764.6 1234.6 1765.7 1150.2 1766.8 1194.9 1767.9 1131.7 1769.0 1190.0 1770.1 1135.3 1771.2 1238.0 1772.3 1144.7 1773.4 1202.9 1774.5 1168.3 1775.6 1209.7 1776.7 1150.7 1777.8 1212.3 1778.9 1161.0 1780.0 1213.3 1781.1 1154.9 1782.2 1165.1 1783.3 1158.3 1784.4 1207.0 1785.5 1182.9 1786.6 1198.9 1787.7 1151.3 1788.8 1193.8 1789.9 1156.6 1791.0 1180.2 1792.1 1156.1 1793.2 1199.4 1794.3 1172.2 1795.4 1202.1 1796.5 1146.9 1797.6 1224.8 1798.7 1195.7 1799.8 1191.8 1800.9 1151.7 1802.0 1236.2 1803.1 1151.0 1804.2 1204.7 1805.3 1141.3 1806.4 1239.2 1807.5 1180.8 1808.6 1209.1 1809.7 1190.5 1810.8 1235.7 1811.9 1178.3 1813.0 1233.5 1814.1 1181.6 1815.2 1198.0 1816.3 1189.0 1817.4 1202.7 1818.5 1211.7 1819.6 1208.0 1820.7 1175.0 1821.8 1231.1 1822.9 1170.9 1824.0 1217.9 1825.1 1187.1 1826.2 1216.8 1827.3 1186.5 1828.4 1241.0 1829.5 1158.1 1830.6 1223.1 1831.7 1157.7 1832.8 1201.7 1833.9 1150.7 1835.0 1161.9 1836.1 1192.6 1837.2 1204.4 1838.3 1167.4 1839.4 1203.8 1840.5 1195.1 1841.6 1205.2 1842.7 1179.5 1843.8 1247.3 1844.9 1202.5 1846.0 1239.8 1847.1 1177.4 1848.2 1249.2 1849.3 1193.1 1850.4 1250.9 1851.5 1200.8 1852.6 1216.3 1853.7 1177.2 1854.8 1222.9 1855.9 1201.2 1857.0 1241.6 1858.1 1182.0 1859.2 1230.3 1860.3 1198.3 1861.4 1212.5 1862.5 1190.4 1863.6 1223.9 1864.7 1189.5 1865.8 1216.5 1866.9 1181.8 1868.0 1172.7 1869.1 1149.3 1870.2 1168.0 1871.3 1166.9 1872.4 1221.5 1873.5 1176.2 1874.6 1225.3 1875.7 1197.4 1876.8 1222.4 1877.9 1181.1 1879.0 1226.7 1880.1 1193.2 1881.2 1220.6 1882.3 1206.9 1883.4 1243.2 1884.5 1180.7 1885.6 1230.9 1886.7 1182.1 1887.8 1211.6 1888.9 1143.3 1890.0 1199.4 1891.1 1180.7 1892.2 1188.4 1893.3 1186.7 1894.4 1217.9 1895.5 1170.6 1896.6 1227.8 1897.7 1189.1 1898.8 1217.6 1899.9 1190.0 1901.0 1219.5 1902.1 1172.7 1903.2 1258.4 1904.3 1200.6 1905.4 1233.5 1906.5 1209.3 1907.6 1244.2 1908.7 1192.6 1909.8 1220.5 1910.9 1186.1 1912.0 1255.2 1913.1 1186.7 1914.2 1195.8 1915.3 1189.3 1916.4 1220.7 1917.5 1169.3 1918.6 1226.4 1919.7 1171.9 1920.8 1237.8 1921.9 1178.3 1923.0 1230.5 1924.1 1159.4 1925.2 1245.5 1926.3 1193.7 1927.4 1215.1 1928.5 1178.5 1929.6 1208.7 1930.7 1189.2 1931.8 1214.8 1932.9 1183.5 1934.0 1220.7 1935.1 1160.3 1936.2 1225.0 1937.3 1140.7 1938.4 1200.1 1939.5 1200.1 1940.6 1204.8 1941.7 1141.9 1942.8 1206.3 1943.9 1174.2 1945.0 1218.3 1946.1 1188.0 1947.2 1212.2 1948.3 1149.3 1949.4 1201.2 1950.5 1181.8 1951.6 1180.3 1952.7 1199.5 1953.8 1227.3 1954.9 1183.2 1956.0 1232.4 1957.1 1141.2 1958.2 1235.5 1959.3 1204.7 1960.4 1201.2 1961.5 1188.9 1962.6 1254.1 1963.7 1200.8 1964.8 1232.3 1965.9 1171.2 1967.0 1217.2 1968.1 1158.1 1969.2 1220.1 1970.3 1184.1 1971.4 1206.1 1972.5 1183.2 1973.6 1226.6 1974.7 1168.3 1975.8 1253.5 1976.9 1177.7 1978.0 1239.1 1979.1 1184.2 1980.2 1262.1 1981.3 1179.0 1982.4 1210.7 1983.5 1191.5 1984.6 1226.3 1985.7 1188.8 1986.8 1246.4 1987.9 1178.0 1989.0 1224.0 1990.1 1173.9 1991.2 1228.3 1992.3 1172.3 1993.4 1227.7 1994.5 1184.0 1995.6 1215.1 1996.7 1153.4 1997.8 1237.1 1998.9 1213.1 2000.0 1217.1 2001.1 1212.6 2002.2 1221.0 2003.3 1210.5 2004.4 1214.1 2005.5 1211.5 2006.6 1245.1 2007.7 1181.1 2008.8 1247.0 2009.9 1169.1 2011.0 1232.5 2012.1 1197.1 2013.2 1223.4 2014.3 1172.1 2015.4 1179.9" fill="none" stroke="#0a73e6" stroke-width="4.6" stroke-linejoin="round" stroke-linecap="butt"/>
<path d="M1500.0 557.0 1501.0 559.5 1502.0 562.0 1503.0 564.6 1504.0 567.2 1505.0 569.8 1506.0 572.3 1507.0 574.9 1508.0 577.5 1509.0 580.1 1510.0 582.7 1511.0 585.2 1512.0 587.8 1513.0 590.4 1514.0 593.0 1515.0 596.3 1516.0 599.7 1517.0 603.0 1518.0 606.3 1519.0 609.7 1520.0 613.0 1521.0 616.3 1522.0 619.7 1523.0 623.0 1524.0 628.0 1525.0 633.0 1526.0 638.0 1527.0 643.0 1528.0 648.0 1529.0 653.0 1530.0 658.2 1531.0 663.3 1532.0 668.5 1533.0 673.7 1534.0 678.8 1535.0 684.0 1536.0 689.2 1537.0 694.3 1538.0 699.5 1539.0 704.7 1540.0 709.8 1541.0 715.0 1542.0 720.2 1543.0 725.3 1544.0 730.5 1545.0 735.7 1546.0 740.8 1547.0 746.0 1548.0 754.0 1549.0 762.0 1550.0 770.0 1551.0 778.0 1552.0 786.0 1553.0 794.0 1554.0 802.0 1555.0 810.0 1556.0 817.1 1557.0 824.3 1558.0 831.4 1559.0 838.6 1560.0 845.7 1561.0 852.9 1562.0 860.0 1563.0 865.0 1564.0 870.0 1565.0 875.0 1566.0 880.0 1567.0 885.0 1568.0 890.0 1569.0 892.8 1570.0 895.5 1571.0 898.2 1572.0 901.0 1573.0 903.8 1574.0 906.5 1575.0 909.2 1576.0 912.0 1577.0 916.5 1578.0 921.1 1579.0 925.6 1580.0 930.1 1581.0 934.7 1582.0 939.2 1583.0 943.7 1584.0 947.4 1585.0 950.2 1586.0 952.9 1587.0 955.7 1588.0 958.5 1589.0 961.3 1590.0 964.0 1591.0 966.8 1592.0 969.6 1593.0 972.4 1594.0 975.1 1595.0 977.9 1596.0 980.7 1597.0 983.5 1598.0 986.2 1599.0 989.0 1600.0 993.2" fill="none" stroke="#0a73e6" stroke-width="10" stroke-linejoin="round"/>
<path d="M264 216 L264 412 M268.5 222 L268.5 405" fill="none" stroke="#0a73e6" stroke-width="5"/>
<line x1="1532.5" y1="678" x2="1626" y2="1446" stroke="#000" stroke-width="6.5" stroke-dasharray="26 10"/>
<line x1="1573" y1="850" x2="1680.5" y2="1446" stroke="#0a72c8" stroke-width="6.5" stroke-dasharray="26 10"/>
<line x1="1555.7" y1="700" x2="1646.5" y2="1446" stroke="#ff0000" stroke-width="6.5" stroke-dasharray="26 10"/>
<ellipse cx="1832" cy="1242" rx="186" ry="84" fill="none" stroke="#ff9633" stroke-width="7" stroke-dasharray="26 19"/>
<line x1="1559" y1="156" x2="1706" y2="156" stroke="#4d4d4d" stroke-width="7"/>
<line x1="1559" y1="236" x2="1706" y2="236" stroke="#ff3a3a" stroke-width="7"/>
<line x1="1559" y1="316" x2="1706" y2="316" stroke="#0a7be6" stroke-width="7"/>
<text transform="translate(214.36,1517.69) scale(0.6214,0.6544)" font-family="Liberation Serif, sans-serif" font-weight="normal" font-size="100" fill="#222" stroke="#fff" stroke-width="1.4">400</text>
<text transform="translate(565.07,1517.69) scale(0.6220,0.6544)" font-family="Liberation Serif, sans-serif" font-weight="normal" font-size="100" fill="#222" stroke="#fff" stroke-width="1.4">500</text>
<text transform="translate(918.04,1517.69) scale(0.6154,0.6544)" font-family="Liberation Serif, sans-serif" font-weight="normal" font-size="100" fill="#222" stroke="#fff" stroke-width="1.4">600</text>
<text transform="translate(1268.26,1517.69) scale(0.6241,0.6544)" font-family="Liberation Serif, sans-serif" font-weight="normal" font-size="100" fill="#222" stroke="#fff" stroke-width="1.4">700</text>
<text transform="translate(1622.54,1517.69) scale(0.5854,0.6544)" font-family="Liberation Serif, sans-serif" font-weight="normal" font-size="100" fill="#222" stroke="#fff" stroke-width="1.4">800</text>
<text transform="translate(1973.82,1517.69) scale(0.5944,0.6544)" font-family="Liberation Serif, sans-serif" font-weight="normal" font-size="100" fill="#222" stroke="#fff" stroke-width="1.4">900</text>
<text transform="translate(0,182.6) scale(0.72,1)" x="2443.06 2489.58 2533.33 2581.25 2626.39 2670.14" y="0" text-anchor="middle" font-family="Liberation Serif, serif" font-size="71.7" fill="#2a2a2a">MAI-53</text>
<text transform="translate(0,262.3) scale(0.72,1)" x="2443.06 2489.58 2533.33 2581.25 2626.39 2670.14" y="0" text-anchor="middle" font-family="Liberation Serif, serif" font-size="71.7" fill="#2a2a2a">MAI-73</text>
<text transform="translate(0,343.0) scale(0.72,1)" x="2443.06 2489.58 2533.33 2581.25 2626.39 2670.14" y="0" text-anchor="middle" font-family="Liberation Serif, serif" font-size="71.7" fill="#2a2a2a">MAI-93</text>
<text transform="translate(0,1611) scale(0.78,1)" x="1152.56 1201.79 1250.90 1299.23 1344.10 1395.77 1440.64 1488.97 1535.51 1583.85 1640.77 1680.38 1728.72 1766.67" y="0" text-anchor="middle" font-family="Liberation Serif, serif" font-size="76" fill="#111" stroke="#111" stroke-width="1.5">Wavelength(nm)</text>
<text transform="translate(81.3,0) rotate(-90) scale(0.8,1)" x="-1143.75 -1096.25 -1055.00 -1007.50 -962.50 -908.75 -861.25 -818.75 -775.00 -727.50 -700.00 -673.12 -630.62 -595.00" y="0" text-anchor="middle" font-family="Liberation Sans, sans-serif" font-size="70" fill="#1a1a1a" stroke="#fff" stroke-width="1.4">Absorbance (%)</text>
</svg></body></html>
